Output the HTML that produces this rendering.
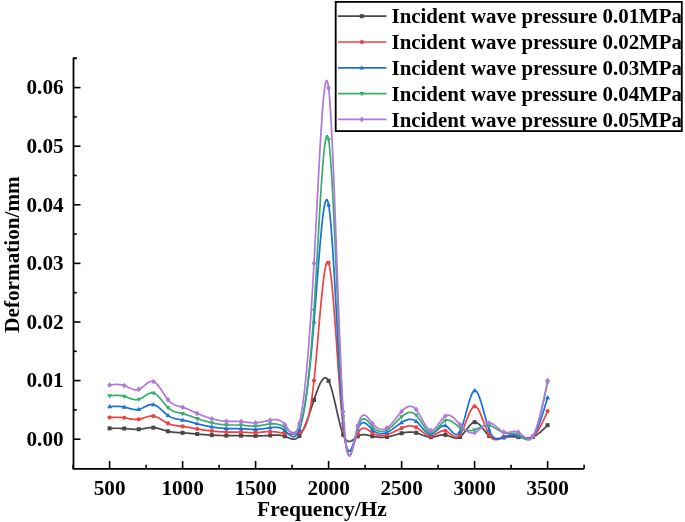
<!DOCTYPE html>
<html><head><meta charset="utf-8"><style>
html,body{margin:0;padding:0;background:#fff;}
svg{display:block;will-change:transform;}
</style></head><body>
<svg width="685" height="522" viewBox="0 0 685 522">
<rect width="685" height="522" fill="#fff"/>
<path d="M109.60,428.36 L110.21,428.35 L110.82,428.33 L111.42,428.32 L112.03,428.31 L112.64,428.29 L113.25,428.28 L113.86,428.27 L114.47,428.26 L115.07,428.26 L115.68,428.25 L116.29,428.25 L116.90,428.25 L117.51,428.25 L118.12,428.25 L118.72,428.26 L119.33,428.27 L119.94,428.28 L120.55,428.30 L121.16,428.32 L121.77,428.34 L122.38,428.37 L122.98,428.40 L123.59,428.44 L124.20,428.48 L124.81,428.52 L125.42,428.57 L126.02,428.62 L126.63,428.68 L127.24,428.73 L127.85,428.79 L128.46,428.85 L129.07,428.91 L129.67,428.96 L130.28,429.02 L130.89,429.07 L131.50,429.12 L132.11,429.17 L132.72,429.21 L133.32,429.25 L133.93,429.28 L134.54,429.31 L135.15,429.32 L135.76,429.33 L136.37,429.33 L136.97,429.33 L137.58,429.31 L138.19,429.28 L138.80,429.24 L139.41,429.19 L140.02,429.12 L140.62,429.05 L141.23,428.97 L141.84,428.88 L142.45,428.79 L143.06,428.69 L143.67,428.59 L144.27,428.49 L144.88,428.39 L145.49,428.29 L146.10,428.19 L146.71,428.09 L147.32,428.00 L147.92,427.92 L148.53,427.84 L149.14,427.77 L149.75,427.72 L150.36,427.67 L150.97,427.64 L151.57,427.62 L152.18,427.61 L152.79,427.63 L153.40,427.66 L154.01,427.71 L154.62,427.77 L155.22,427.86 L155.83,427.96 L156.44,428.07 L157.05,428.20 L157.66,428.34 L158.27,428.49 L158.88,428.65 L159.48,428.81 L160.09,428.99 L160.70,429.17 L161.31,429.35 L161.92,429.54 L162.52,429.73 L163.13,429.91 L163.74,430.10 L164.35,430.29 L164.96,430.47 L165.57,430.65 L166.17,430.82 L166.78,430.99 L167.39,431.14 L168.00,431.29 L168.61,431.43 L169.22,431.55 L169.82,431.67 L170.43,431.78 L171.04,431.87 L171.65,431.96 L172.26,432.05 L172.87,432.12 L173.47,432.19 L174.08,432.25 L174.69,432.31 L175.30,432.36 L175.91,432.41 L176.52,432.46 L177.12,432.50 L177.73,432.54 L178.34,432.57 L178.95,432.61 L179.56,432.64 L180.17,432.68 L180.77,432.71 L181.38,432.74 L181.99,432.78 L182.60,432.81 L183.21,432.85 L183.82,432.89 L184.42,432.93 L185.03,432.98 L185.64,433.02 L186.25,433.07 L186.86,433.12 L187.47,433.17 L188.07,433.22 L188.68,433.27 L189.29,433.32 L189.90,433.38 L190.51,433.43 L191.12,433.49 L191.72,433.54 L192.33,433.60 L192.94,433.66 L193.55,433.71 L194.16,433.77 L194.77,433.82 L195.38,433.88 L195.98,433.93 L196.59,433.99 L197.20,434.04 L197.81,434.10 L198.42,434.15 L199.02,434.20 L199.63,434.25 L200.24,434.30 L200.85,434.35 L201.46,434.40 L202.07,434.45 L202.67,434.49 L203.28,434.54 L203.89,434.58 L204.50,434.63 L205.11,434.67 L205.72,434.72 L206.32,434.76 L206.93,434.80 L207.54,434.84 L208.15,434.88 L208.76,434.92 L209.37,434.96 L209.97,434.99 L210.58,435.03 L211.19,435.06 L211.80,435.10 L212.41,435.13 L213.02,435.16 L213.62,435.20 L214.23,435.23 L214.84,435.26 L215.45,435.29 L216.06,435.31 L216.67,435.34 L217.27,435.37 L217.88,435.39 L218.49,435.42 L219.10,435.44 L219.71,435.46 L220.32,435.48 L220.92,435.50 L221.53,435.52 L222.14,435.54 L222.75,435.55 L223.36,435.57 L223.97,435.58 L224.57,435.60 L225.18,435.61 L225.79,435.62 L226.40,435.63 L227.01,435.63 L227.62,435.64 L228.22,435.64 L228.83,435.65 L229.44,435.65 L230.05,435.65 L230.66,435.65 L231.27,435.66 L231.88,435.66 L232.48,435.66 L233.09,435.66 L233.70,435.66 L234.31,435.66 L234.92,435.66 L235.52,435.66 L236.13,435.66 L236.74,435.66 L237.35,435.66 L237.96,435.66 L238.57,435.66 L239.17,435.67 L239.78,435.67 L240.39,435.68 L241.00,435.68 L241.61,435.69 L242.22,435.70 L242.82,435.71 L243.43,435.72 L244.04,435.73 L244.65,435.75 L245.26,435.76 L245.87,435.77 L246.47,435.78 L247.08,435.80 L247.69,435.81 L248.30,435.82 L248.91,435.84 L249.52,435.85 L250.12,435.86 L250.73,435.87 L251.34,435.88 L251.95,435.89 L252.56,435.90 L253.17,435.91 L253.77,435.91 L254.38,435.92 L254.99,435.92 L255.60,435.92 L256.21,435.92 L256.82,435.91 L257.42,435.91 L258.03,435.90 L258.64,435.89 L259.25,435.88 L259.86,435.87 L260.47,435.85 L261.07,435.84 L261.68,435.82 L262.29,435.80 L262.90,435.78 L263.51,435.76 L264.12,435.73 L264.73,435.70 L265.33,435.68 L265.94,435.65 L266.55,435.61 L267.16,435.58 L267.77,435.55 L268.38,435.51 L268.98,435.47 L269.59,435.43 L270.20,435.39 L270.81,435.35 L271.42,435.31 L272.02,435.26 L272.63,435.22 L273.24,435.18 L273.85,435.15 L274.46,435.12 L275.07,435.09 L275.67,435.08 L276.28,435.07 L276.89,435.06 L277.50,435.07 L278.11,435.09 L278.72,435.12 L279.32,435.16 L279.93,435.22 L280.54,435.29 L281.15,435.37 L281.76,435.47 L282.37,435.59 L282.98,435.73 L283.58,435.89 L284.19,436.07 L284.80,436.27 L285.41,436.49 L286.02,436.73 L286.62,436.98 L287.23,437.24 L287.84,437.50 L288.45,437.76 L289.06,438.01 L289.67,438.25 L290.27,438.46 L290.88,438.66 L291.49,438.82 L292.10,438.95 L292.71,439.04 L293.32,439.09 L293.92,439.09 L294.53,439.03 L295.14,438.91 L295.75,438.73 L296.36,438.47 L296.97,438.15 L297.57,437.74 L298.18,437.24 L298.79,436.66 L299.40,435.98 L300.01,435.20 L300.62,434.32 L301.23,433.35 L301.83,432.29 L302.44,431.15 L303.05,429.94 L303.66,428.65 L304.27,427.29 L304.88,425.86 L305.48,424.38 L306.09,422.84 L306.70,421.25 L307.31,419.62 L307.92,417.94 L308.52,416.23 L309.13,414.49 L309.74,412.72 L310.35,410.92 L310.96,409.11 L311.57,407.28 L312.17,405.45 L312.78,403.61 L313.39,401.77 L314.00,399.94 L314.61,398.11 L315.22,396.31 L315.82,394.54 L316.43,392.80 L317.04,391.11 L317.65,389.48 L318.26,387.91 L318.87,386.43 L319.48,385.02 L320.08,383.72 L320.69,382.52 L321.30,381.43 L321.91,380.47 L322.52,379.65 L323.12,378.97 L323.73,378.44 L324.34,378.07 L324.95,377.88 L325.56,377.87 L326.17,378.05 L326.77,378.44 L327.38,379.03 L327.99,379.85 L328.60,380.89 L329.21,382.17 L329.82,383.68 L330.42,385.38 L331.03,387.27 L331.64,389.32 L332.25,391.52 L332.86,393.85 L333.47,396.28 L334.07,398.81 L334.68,401.41 L335.29,404.06 L335.90,406.74 L336.51,409.44 L337.12,412.14 L337.72,414.81 L338.33,417.45 L338.94,420.02 L339.55,422.52 L340.16,424.92 L340.77,427.20 L341.38,429.35 L341.98,431.35 L342.59,433.17 L343.20,434.81 L343.81,436.23 L344.42,437.47 L345.02,438.51 L345.63,439.38 L346.24,440.08 L346.85,440.62 L347.46,441.03 L348.07,441.29 L348.67,441.44 L349.28,441.47 L349.89,441.41 L350.50,441.25 L351.11,441.01 L351.72,440.71 L352.32,440.34 L352.93,439.93 L353.54,439.49 L354.15,439.02 L354.76,438.53 L355.37,438.04 L355.97,437.56 L356.58,437.10 L357.19,436.66 L357.80,436.27 L358.41,435.92 L359.02,435.63 L359.62,435.37 L360.23,435.16 L360.84,434.99 L361.45,434.86 L362.06,434.77 L362.67,434.71 L363.27,434.68 L363.88,434.67 L364.49,434.70 L365.10,434.75 L365.71,434.82 L366.32,434.90 L366.92,435.01 L367.53,435.13 L368.14,435.25 L368.75,435.39 L369.36,435.54 L369.97,435.69 L370.57,435.84 L371.18,435.98 L371.79,436.13 L372.40,436.27 L373.01,436.40 L373.62,436.53 L374.23,436.64 L374.83,436.75 L375.44,436.85 L376.05,436.94 L376.66,437.02 L377.27,437.09 L377.88,437.15 L378.48,437.20 L379.09,437.25 L379.70,437.28 L380.31,437.31 L380.92,437.32 L381.52,437.33 L382.13,437.32 L382.74,437.31 L383.35,437.28 L383.96,437.25 L384.57,437.20 L385.17,437.15 L385.78,437.08 L386.39,437.00 L387.00,436.91 L387.61,436.82 L388.22,436.71 L388.82,436.59 L389.43,436.46 L390.04,436.33 L390.65,436.19 L391.26,436.04 L391.87,435.88 L392.48,435.72 L393.08,435.56 L393.69,435.39 L394.30,435.22 L394.91,435.05 L395.52,434.88 L396.12,434.70 L396.73,434.53 L397.34,434.35 L397.95,434.18 L398.56,434.01 L399.17,433.85 L399.77,433.68 L400.38,433.52 L400.99,433.37 L401.60,433.22 L402.21,433.08 L402.82,432.95 L403.42,432.82 L404.03,432.70 L404.64,432.59 L405.25,432.49 L405.86,432.40 L406.47,432.32 L407.07,432.25 L407.68,432.19 L408.29,432.15 L408.90,432.11 L409.51,432.09 L410.12,432.08 L410.73,432.08 L411.33,432.10 L411.94,432.13 L412.55,432.18 L413.16,432.24 L413.77,432.32 L414.38,432.42 L414.98,432.53 L415.59,432.66 L416.20,432.81 L416.81,432.98 L417.42,433.16 L418.02,433.36 L418.63,433.57 L419.24,433.79 L419.85,434.02 L420.46,434.25 L421.07,434.49 L421.67,434.73 L422.28,434.97 L422.89,435.21 L423.50,435.45 L424.11,435.67 L424.72,435.89 L425.32,436.10 L425.93,436.29 L426.54,436.48 L427.15,436.64 L427.76,436.78 L428.37,436.91 L428.98,437.01 L429.58,437.08 L430.19,437.13 L430.80,437.15 L431.41,437.14 L432.02,437.10 L432.62,437.03 L433.23,436.94 L433.84,436.83 L434.45,436.71 L435.06,436.57 L435.67,436.42 L436.27,436.26 L436.88,436.09 L437.49,435.93 L438.10,435.76 L438.71,435.60 L439.32,435.45 L439.92,435.30 L440.53,435.17 L441.14,435.06 L441.75,434.96 L442.36,434.88 L442.97,434.83 L443.57,434.80 L444.18,434.81 L444.79,434.85 L445.40,434.92 L446.01,435.03 L446.62,435.18 L447.23,435.36 L447.83,435.56 L448.44,435.77 L449.05,436.01 L449.66,436.25 L450.27,436.49 L450.88,436.74 L451.48,436.98 L452.09,437.21 L452.70,437.42 L453.31,437.61 L453.92,437.78 L454.52,437.91 L455.13,438.01 L455.74,438.07 L456.35,438.08 L456.96,438.04 L457.57,437.95 L458.17,437.79 L458.78,437.57 L459.39,437.28 L460.00,436.91 L460.61,436.47 L461.22,435.95 L461.82,435.37 L462.43,434.73 L463.04,434.04 L463.65,433.31 L464.26,432.55 L464.87,431.76 L465.48,430.95 L466.08,430.14 L466.69,429.32 L467.30,428.51 L467.91,427.72 L468.52,426.95 L469.12,426.20 L469.73,425.50 L470.34,424.84 L470.95,424.24 L471.56,423.70 L472.17,423.23 L472.77,422.84 L473.38,422.53 L473.99,422.32 L474.60,422.21 L475.21,422.20 L475.82,422.30 L476.42,422.50 L477.03,422.78 L477.64,423.14 L478.25,423.58 L478.86,424.09 L479.47,424.65 L480.07,425.27 L480.68,425.93 L481.29,426.63 L481.90,427.37 L482.51,428.12 L483.12,428.90 L483.73,429.68 L484.33,430.46 L484.94,431.24 L485.55,432.01 L486.16,432.76 L486.77,433.49 L487.38,434.18 L487.98,434.83 L488.59,435.43 L489.20,435.98 L489.81,436.46 L490.42,436.89 L491.02,437.27 L491.63,437.59 L492.24,437.86 L492.85,438.08 L493.46,438.26 L494.07,438.39 L494.67,438.49 L495.28,438.56 L495.89,438.59 L496.50,438.59 L497.11,438.57 L497.72,438.52 L498.32,438.46 L498.93,438.37 L499.54,438.28 L500.15,438.17 L500.76,438.05 L501.37,437.93 L501.98,437.80 L502.58,437.68 L503.19,437.56 L503.80,437.44 L504.41,437.34 L505.02,437.24 L505.62,437.15 L506.23,437.08 L506.84,437.01 L507.45,436.95 L508.06,436.90 L508.67,436.85 L509.27,436.82 L509.88,436.79 L510.49,436.77 L511.10,436.76 L511.71,436.75 L512.32,436.76 L512.92,436.77 L513.53,436.78 L514.14,436.81 L514.75,436.84 L515.36,436.87 L515.97,436.92 L516.57,436.97 L517.18,437.02 L517.79,437.08 L518.40,437.15 L519.01,437.22 L519.62,437.30 L520.23,437.37 L520.83,437.45 L521.44,437.53 L522.05,437.61 L522.66,437.68 L523.27,437.74 L523.88,437.80 L524.48,437.86 L525.09,437.90 L525.70,437.93 L526.31,437.95 L526.92,437.95 L527.52,437.94 L528.13,437.91 L528.74,437.86 L529.35,437.79 L529.96,437.70 L530.57,437.58 L531.17,437.44 L531.78,437.27 L532.39,437.08 L533.00,436.86 L533.63,436.59 L534.27,436.29 L534.90,435.96 L535.54,435.60 L536.17,435.21 L536.81,434.80 L537.44,434.36 L538.08,433.90 L538.71,433.41 L539.35,432.91 L539.98,432.38 L540.62,431.84 L541.25,431.28 L541.89,430.71 L542.52,430.13 L543.16,429.53 L543.79,428.92 L544.43,428.30 L545.06,427.68 L545.70,427.05 L546.33,426.41 L546.97,425.78 L547.60,425.14" fill="none" stroke="#474747" stroke-width="1.7" stroke-linejoin="round"/>
<rect x="107.60" y="426.36" width="4.00" height="4.00" fill="#474747"/>
<rect x="122.20" y="426.48" width="4.00" height="4.00" fill="#474747"/>
<rect x="136.80" y="427.24" width="4.00" height="4.00" fill="#474747"/>
<rect x="151.40" y="425.66" width="4.00" height="4.00" fill="#474747"/>
<rect x="166.00" y="429.29" width="4.00" height="4.00" fill="#474747"/>
<rect x="180.60" y="430.81" width="4.00" height="4.00" fill="#474747"/>
<rect x="195.20" y="432.04" width="4.00" height="4.00" fill="#474747"/>
<rect x="209.80" y="433.10" width="4.00" height="4.00" fill="#474747"/>
<rect x="224.40" y="433.63" width="4.00" height="4.00" fill="#474747"/>
<rect x="239.00" y="433.68" width="4.00" height="4.00" fill="#474747"/>
<rect x="253.60" y="433.92" width="4.00" height="4.00" fill="#474747"/>
<rect x="268.20" y="433.39" width="4.00" height="4.00" fill="#474747"/>
<rect x="282.80" y="434.27" width="4.00" height="4.00" fill="#474747"/>
<rect x="297.40" y="433.98" width="4.00" height="4.00" fill="#474747"/>
<rect x="312.00" y="397.94" width="4.00" height="4.00" fill="#474747"/>
<rect x="326.60" y="378.89" width="4.00" height="4.00" fill="#474747"/>
<rect x="341.20" y="432.81" width="4.00" height="4.00" fill="#474747"/>
<rect x="355.80" y="434.27" width="4.00" height="4.00" fill="#474747"/>
<rect x="370.40" y="434.27" width="4.00" height="4.00" fill="#474747"/>
<rect x="385.00" y="434.91" width="4.00" height="4.00" fill="#474747"/>
<rect x="399.60" y="431.22" width="4.00" height="4.00" fill="#474747"/>
<rect x="414.20" y="430.81" width="4.00" height="4.00" fill="#474747"/>
<rect x="428.80" y="435.15" width="4.00" height="4.00" fill="#474747"/>
<rect x="443.40" y="432.92" width="4.00" height="4.00" fill="#474747"/>
<rect x="458.00" y="434.91" width="4.00" height="4.00" fill="#474747"/>
<rect x="472.60" y="420.21" width="4.00" height="4.00" fill="#474747"/>
<rect x="487.20" y="433.98" width="4.00" height="4.00" fill="#474747"/>
<rect x="501.80" y="435.44" width="4.00" height="4.00" fill="#474747"/>
<rect x="516.40" y="435.15" width="4.00" height="4.00" fill="#474747"/>
<rect x="531.00" y="434.86" width="4.00" height="4.00" fill="#474747"/>
<rect x="545.60" y="423.14" width="4.00" height="4.00" fill="#474747"/>
<path d="M109.60,417.52 L110.21,417.49 L110.82,417.46 L111.42,417.44 L112.03,417.41 L112.64,417.39 L113.25,417.36 L113.86,417.35 L114.47,417.33 L115.07,417.31 L115.68,417.30 L116.29,417.30 L116.90,417.30 L117.51,417.30 L118.12,417.31 L118.72,417.32 L119.33,417.34 L119.94,417.37 L120.55,417.40 L121.16,417.44 L121.77,417.48 L122.38,417.54 L122.98,417.60 L123.59,417.67 L124.20,417.75 L124.81,417.84 L125.42,417.94 L126.02,418.04 L126.63,418.15 L127.24,418.27 L127.85,418.38 L128.46,418.50 L129.07,418.61 L129.67,418.73 L130.28,418.84 L130.89,418.95 L131.50,419.05 L132.11,419.14 L132.72,419.22 L133.32,419.30 L133.93,419.36 L134.54,419.41 L135.15,419.45 L135.76,419.47 L136.37,419.47 L136.97,419.45 L137.58,419.41 L138.19,419.36 L138.80,419.28 L139.41,419.17 L140.02,419.05 L140.62,418.90 L141.23,418.74 L141.84,418.56 L142.45,418.38 L143.06,418.18 L143.67,417.98 L144.27,417.78 L144.88,417.57 L145.49,417.37 L146.10,417.17 L146.71,416.98 L147.32,416.80 L147.92,416.63 L148.53,416.48 L149.14,416.35 L149.75,416.23 L150.36,416.14 L150.97,416.07 L151.57,416.03 L152.18,416.02 L152.79,416.05 L153.40,416.11 L154.01,416.21 L154.62,416.35 L155.22,416.52 L155.83,416.72 L156.44,416.94 L157.05,417.20 L157.66,417.48 L158.27,417.78 L158.88,418.10 L159.48,418.43 L160.09,418.78 L160.70,419.14 L161.31,419.50 L161.92,419.88 L162.52,420.25 L163.13,420.63 L163.74,421.00 L164.35,421.38 L164.96,421.74 L165.57,422.10 L166.17,422.44 L166.78,422.77 L167.39,423.08 L168.00,423.38 L168.61,423.65 L169.22,423.90 L169.82,424.14 L170.43,424.35 L171.04,424.55 L171.65,424.73 L172.26,424.89 L172.87,425.04 L173.47,425.18 L174.08,425.31 L174.69,425.42 L175.30,425.53 L175.91,425.63 L176.52,425.71 L177.12,425.80 L177.73,425.87 L178.34,425.95 L178.95,426.02 L179.56,426.08 L180.17,426.15 L180.77,426.22 L181.38,426.28 L181.99,426.35 L182.60,426.43 L183.21,426.50 L183.82,426.58 L184.42,426.67 L185.03,426.75 L185.64,426.85 L186.25,426.94 L186.86,427.04 L187.47,427.14 L188.07,427.24 L188.68,427.34 L189.29,427.45 L189.90,427.56 L190.51,427.67 L191.12,427.78 L191.72,427.89 L192.33,428.00 L192.94,428.11 L193.55,428.22 L194.16,428.34 L194.77,428.45 L195.38,428.56 L195.98,428.67 L196.59,428.78 L197.20,428.89 L197.81,428.99 L198.42,429.10 L199.02,429.20 L199.63,429.30 L200.24,429.40 L200.85,429.50 L201.46,429.60 L202.07,429.69 L202.67,429.79 L203.28,429.88 L203.89,429.97 L204.50,430.06 L205.11,430.14 L205.72,430.23 L206.32,430.31 L206.93,430.40 L207.54,430.48 L208.15,430.56 L208.76,430.63 L209.37,430.71 L209.97,430.78 L210.58,430.86 L211.19,430.93 L211.80,431.00 L212.41,431.06 L213.02,431.13 L213.62,431.19 L214.23,431.26 L214.84,431.32 L215.45,431.38 L216.06,431.43 L216.67,431.49 L217.27,431.54 L217.88,431.59 L218.49,431.64 L219.10,431.69 L219.71,431.73 L220.32,431.77 L220.92,431.81 L221.53,431.85 L222.14,431.88 L222.75,431.91 L223.36,431.94 L223.97,431.97 L224.57,432.00 L225.18,432.02 L225.79,432.04 L226.40,432.05 L227.01,432.06 L227.62,432.07 L228.22,432.08 L228.83,432.09 L229.44,432.09 L230.05,432.09 L230.66,432.10 L231.27,432.10 L231.88,432.09 L232.48,432.09 L233.09,432.09 L233.70,432.09 L234.31,432.09 L234.92,432.09 L235.52,432.09 L236.13,432.09 L236.74,432.09 L237.35,432.10 L237.96,432.10 L238.57,432.11 L239.17,432.12 L239.78,432.13 L240.39,432.15 L241.00,432.17 L241.61,432.19 L242.22,432.22 L242.82,432.24 L243.43,432.27 L244.04,432.31 L244.65,432.34 L245.26,432.37 L245.87,432.41 L246.47,432.44 L247.08,432.47 L247.69,432.51 L248.30,432.54 L248.91,432.57 L249.52,432.59 L250.12,432.62 L250.73,432.64 L251.34,432.66 L251.95,432.67 L252.56,432.68 L253.17,432.68 L253.77,432.68 L254.38,432.67 L254.99,432.66 L255.60,432.64 L256.21,432.61 L256.82,432.58 L257.42,432.54 L258.03,432.49 L258.64,432.44 L259.25,432.39 L259.86,432.33 L260.47,432.27 L261.07,432.21 L261.68,432.15 L262.29,432.09 L262.90,432.03 L263.51,431.97 L264.12,431.91 L264.73,431.86 L265.33,431.80 L265.94,431.76 L266.55,431.71 L267.16,431.67 L267.77,431.64 L268.38,431.61 L268.98,431.59 L269.59,431.58 L270.20,431.58 L270.81,431.59 L271.42,431.61 L272.02,431.63 L272.63,431.66 L273.24,431.70 L273.85,431.75 L274.46,431.80 L275.07,431.87 L275.67,431.93 L276.28,432.00 L276.89,432.08 L277.50,432.16 L278.11,432.25 L278.72,432.34 L279.32,432.43 L279.93,432.53 L280.54,432.62 L281.15,432.72 L281.76,432.83 L282.37,432.93 L282.98,433.03 L283.58,433.13 L284.19,433.24 L284.80,433.34 L285.41,433.44 L286.02,433.54 L286.62,433.64 L287.23,433.73 L287.84,433.81 L288.45,433.89 L289.06,433.96 L289.67,434.02 L290.27,434.07 L290.88,434.11 L291.49,434.13 L292.10,434.14 L292.71,434.14 L293.32,434.12 L293.92,434.08 L294.53,434.03 L295.14,433.95 L295.75,433.85 L296.36,433.73 L296.97,433.59 L297.57,433.42 L298.18,433.22 L298.79,433.00 L299.40,432.75 L300.01,432.47 L300.62,432.15 L301.23,431.76 L301.83,431.29 L302.44,430.73 L303.05,430.06 L303.66,429.26 L304.27,428.32 L304.88,427.22 L305.48,425.94 L306.09,424.48 L306.70,422.80 L307.31,420.90 L307.92,418.76 L308.52,416.37 L309.13,413.70 L309.74,410.75 L310.35,407.48 L310.96,403.90 L311.57,399.98 L312.17,395.71 L312.78,391.06 L313.39,386.03 L314.00,380.60 L314.61,374.76 L315.22,368.56 L315.82,362.07 L316.43,355.34 L317.04,348.42 L317.65,341.39 L318.26,334.30 L318.87,327.21 L319.48,320.18 L320.08,313.27 L320.69,306.54 L321.30,300.06 L321.91,293.87 L322.52,288.05 L323.12,282.64 L323.73,277.72 L324.34,273.33 L324.95,269.55 L325.56,266.43 L326.17,264.02 L326.77,262.40 L327.38,261.62 L327.99,261.74 L328.60,262.81 L329.21,264.89 L329.82,267.91 L330.42,271.81 L331.03,276.51 L331.64,281.95 L332.25,288.04 L332.86,294.72 L333.47,301.91 L334.07,309.54 L334.68,317.55 L335.29,325.85 L335.90,334.38 L336.51,343.07 L337.12,351.83 L337.72,360.60 L338.33,369.31 L338.94,377.89 L339.55,386.26 L340.16,394.35 L340.77,402.08 L341.38,409.39 L341.98,416.21 L342.59,422.46 L343.20,428.07 L343.81,432.98 L344.42,437.22 L345.02,440.81 L345.63,443.81 L346.24,446.24 L346.85,448.14 L347.46,449.55 L348.07,450.50 L348.67,451.03 L349.28,451.18 L349.89,450.99 L350.50,450.49 L351.11,449.71 L351.72,448.70 L352.32,447.49 L352.93,446.12 L353.54,444.63 L354.15,443.04 L354.76,441.41 L355.37,439.76 L355.97,438.13 L356.58,436.56 L357.19,435.09 L357.80,433.75 L358.41,432.57 L359.02,431.55 L359.62,430.68 L360.23,429.96 L360.84,429.37 L361.45,428.91 L362.06,428.57 L362.67,428.34 L363.27,428.21 L363.88,428.18 L364.49,428.23 L365.10,428.36 L365.71,428.55 L366.32,428.81 L366.92,429.12 L367.53,429.47 L368.14,429.86 L368.75,430.28 L369.36,430.71 L369.97,431.16 L370.57,431.60 L371.18,432.04 L371.79,432.47 L372.40,432.87 L373.01,433.24 L373.62,433.59 L374.23,433.90 L374.83,434.18 L375.44,434.43 L376.05,434.66 L376.66,434.86 L377.27,435.03 L377.88,435.17 L378.48,435.29 L379.09,435.39 L379.70,435.46 L380.31,435.50 L380.92,435.53 L381.52,435.53 L382.13,435.50 L382.74,435.46 L383.35,435.40 L383.96,435.32 L384.57,435.22 L385.17,435.10 L385.78,434.96 L386.39,434.80 L387.00,434.63 L387.61,434.44 L388.22,434.24 L388.82,434.02 L389.43,433.79 L390.04,433.55 L390.65,433.30 L391.26,433.04 L391.87,432.76 L392.48,432.49 L393.08,432.20 L393.69,431.91 L394.30,431.62 L394.91,431.32 L395.52,431.02 L396.12,430.72 L396.73,430.42 L397.34,430.12 L397.95,429.82 L398.56,429.52 L399.17,429.23 L399.77,428.94 L400.38,428.66 L400.99,428.39 L401.60,428.12 L402.21,427.87 L402.82,427.62 L403.42,427.39 L404.03,427.17 L404.64,426.97 L405.25,426.77 L405.86,426.60 L406.47,426.44 L407.07,426.31 L407.68,426.19 L408.29,426.10 L408.90,426.02 L409.51,425.97 L410.12,425.95 L410.73,425.95 L411.33,425.98 L411.94,426.04 L412.55,426.13 L413.16,426.25 L413.77,426.40 L414.38,426.59 L414.98,426.81 L415.59,427.07 L416.20,427.36 L416.81,427.69 L417.42,428.06 L418.02,428.46 L418.63,428.88 L419.24,429.32 L419.85,429.78 L420.46,430.25 L421.07,430.73 L421.67,431.21 L422.28,431.70 L422.89,432.17 L423.50,432.64 L424.11,433.10 L424.72,433.54 L425.32,433.95 L425.93,434.34 L426.54,434.70 L427.15,435.02 L427.76,435.30 L428.37,435.54 L428.98,435.74 L429.58,435.87 L430.19,435.96 L430.80,435.98 L431.41,435.93 L432.02,435.83 L432.62,435.68 L433.23,435.47 L433.84,435.23 L434.45,434.95 L435.06,434.64 L435.67,434.31 L436.27,433.96 L436.88,433.60 L437.49,433.24 L438.10,432.87 L438.71,432.52 L439.32,432.18 L439.92,431.85 L440.53,431.56 L441.14,431.29 L441.75,431.06 L442.36,430.88 L442.97,430.74 L443.57,430.66 L444.18,430.65 L444.79,430.70 L445.40,430.82 L446.01,431.02 L446.62,431.29 L447.23,431.63 L447.83,432.01 L448.44,432.43 L449.05,432.88 L449.66,433.35 L450.27,433.84 L450.88,434.32 L451.48,434.79 L452.09,435.25 L452.70,435.67 L453.31,436.05 L453.92,436.39 L454.52,436.66 L455.13,436.87 L455.74,436.99 L456.35,437.03 L456.96,436.97 L457.57,436.79 L458.17,436.50 L458.78,436.08 L459.39,435.52 L460.00,434.81 L460.61,433.94 L461.22,432.93 L461.82,431.79 L462.43,430.54 L463.04,429.20 L463.65,427.77 L464.26,426.28 L464.87,424.74 L465.48,423.17 L466.08,421.58 L466.69,419.99 L467.30,418.41 L467.91,416.86 L468.52,415.37 L469.12,413.93 L469.73,412.57 L470.34,411.30 L470.95,410.14 L471.56,409.11 L472.17,408.22 L472.77,407.49 L473.38,406.93 L473.99,406.55 L474.60,406.38 L475.21,406.43 L475.82,406.68 L476.42,407.13 L477.03,407.74 L477.64,408.53 L478.25,409.45 L478.86,410.52 L479.47,411.70 L480.07,412.98 L480.68,414.35 L481.29,415.80 L481.90,417.31 L482.51,418.86 L483.12,420.45 L483.73,422.05 L484.33,423.65 L484.94,425.24 L485.55,426.80 L486.16,428.33 L486.77,429.79 L487.38,431.19 L487.98,432.50 L488.59,433.71 L489.20,434.81 L489.81,435.78 L490.42,436.62 L491.02,437.36 L491.63,437.98 L492.24,438.50 L492.85,438.92 L493.46,439.24 L494.07,439.49 L494.67,439.65 L495.28,439.74 L495.89,439.77 L496.50,439.73 L497.11,439.64 L497.72,439.51 L498.32,439.33 L498.93,439.11 L499.54,438.87 L500.15,438.60 L500.76,438.31 L501.37,438.02 L501.98,437.72 L502.58,437.42 L503.19,437.13 L503.80,436.86 L504.41,436.60 L505.02,436.36 L505.62,436.15 L506.23,435.95 L506.84,435.77 L507.45,435.62 L508.06,435.48 L508.67,435.36 L509.27,435.26 L509.88,435.18 L510.49,435.12 L511.10,435.08 L511.71,435.06 L512.32,435.05 L512.92,435.06 L513.53,435.09 L514.14,435.14 L514.75,435.21 L515.36,435.30 L515.97,435.40 L516.57,435.52 L517.18,435.65 L517.79,435.81 L518.40,435.98 L519.01,436.16 L519.62,436.36 L520.23,436.57 L520.83,436.79 L521.44,437.00 L522.05,437.22 L522.66,437.43 L523.27,437.63 L523.88,437.81 L524.48,437.99 L525.09,438.14 L525.70,438.26 L526.31,438.36 L526.92,438.43 L527.52,438.46 L528.13,438.45 L528.74,438.41 L529.35,438.31 L529.96,438.17 L530.57,437.97 L531.17,437.71 L531.78,437.39 L532.39,437.01 L533.00,436.56 L533.63,436.02 L534.27,435.40 L534.90,434.71 L535.54,433.95 L536.17,433.12 L536.81,432.23 L537.44,431.29 L538.08,430.29 L538.71,429.24 L539.35,428.14 L539.98,427.00 L540.62,425.82 L541.25,424.60 L541.89,423.34 L542.52,422.05 L543.16,420.74 L543.79,419.40 L544.43,418.05 L545.06,416.67 L545.70,415.28 L546.33,413.89 L546.97,412.48 L547.60,411.07" fill="none" stroke="#F14040" stroke-width="1.7" stroke-linejoin="round"/>
<circle cx="109.60" cy="417.52" r="2.10" fill="#F14040"/>
<circle cx="124.20" cy="417.75" r="2.10" fill="#F14040"/>
<circle cx="138.80" cy="419.28" r="2.10" fill="#F14040"/>
<circle cx="153.40" cy="416.11" r="2.10" fill="#F14040"/>
<circle cx="168.00" cy="423.38" r="2.10" fill="#F14040"/>
<circle cx="182.60" cy="426.43" r="2.10" fill="#F14040"/>
<circle cx="197.20" cy="428.89" r="2.10" fill="#F14040"/>
<circle cx="211.80" cy="431.00" r="2.10" fill="#F14040"/>
<circle cx="226.40" cy="432.05" r="2.10" fill="#F14040"/>
<circle cx="241.00" cy="432.17" r="2.10" fill="#F14040"/>
<circle cx="255.60" cy="432.64" r="2.10" fill="#F14040"/>
<circle cx="270.20" cy="431.58" r="2.10" fill="#F14040"/>
<circle cx="284.80" cy="433.34" r="2.10" fill="#F14040"/>
<circle cx="299.40" cy="432.75" r="2.10" fill="#F14040"/>
<circle cx="314.00" cy="380.60" r="2.10" fill="#F14040"/>
<circle cx="328.60" cy="262.81" r="2.10" fill="#F14040"/>
<circle cx="343.20" cy="428.07" r="2.10" fill="#F14040"/>
<circle cx="357.80" cy="433.75" r="2.10" fill="#F14040"/>
<circle cx="372.40" cy="432.87" r="2.10" fill="#F14040"/>
<circle cx="387.00" cy="434.63" r="2.10" fill="#F14040"/>
<circle cx="401.60" cy="428.12" r="2.10" fill="#F14040"/>
<circle cx="416.20" cy="427.36" r="2.10" fill="#F14040"/>
<circle cx="430.80" cy="435.98" r="2.10" fill="#F14040"/>
<circle cx="445.40" cy="430.82" r="2.10" fill="#F14040"/>
<circle cx="460.00" cy="434.81" r="2.10" fill="#F14040"/>
<circle cx="474.60" cy="406.38" r="2.10" fill="#F14040"/>
<circle cx="489.20" cy="434.81" r="2.10" fill="#F14040"/>
<circle cx="503.80" cy="436.86" r="2.10" fill="#F14040"/>
<circle cx="518.40" cy="435.98" r="2.10" fill="#F14040"/>
<circle cx="533.00" cy="436.56" r="2.10" fill="#F14040"/>
<circle cx="547.60" cy="411.07" r="2.10" fill="#F14040"/>
<path d="M109.60,406.68 L110.21,406.64 L110.82,406.59 L111.42,406.55 L112.03,406.52 L112.64,406.48 L113.25,406.45 L113.86,406.42 L114.47,406.39 L115.07,406.37 L115.68,406.36 L116.29,406.35 L116.90,406.34 L117.51,406.35 L118.12,406.36 L118.72,406.38 L119.33,406.41 L119.94,406.45 L120.55,406.50 L121.16,406.55 L121.77,406.62 L122.38,406.71 L122.98,406.80 L123.59,406.91 L124.20,407.03 L124.81,407.16 L125.42,407.31 L126.02,407.47 L126.63,407.63 L127.24,407.80 L127.85,407.97 L128.46,408.15 L129.07,408.32 L129.67,408.49 L130.28,408.66 L130.89,408.82 L131.50,408.97 L132.11,409.11 L132.72,409.24 L133.32,409.35 L133.93,409.44 L134.54,409.52 L135.15,409.57 L135.76,409.60 L136.37,409.60 L136.97,409.58 L137.58,409.52 L138.19,409.44 L138.80,409.31 L139.41,409.16 L140.02,408.97 L140.62,408.75 L141.23,408.51 L141.84,408.25 L142.45,407.97 L143.06,407.68 L143.67,407.37 L144.27,407.07 L144.88,406.76 L145.49,406.46 L146.10,406.16 L146.71,405.88 L147.32,405.60 L147.92,405.35 L148.53,405.12 L149.14,404.92 L149.75,404.75 L150.36,404.61 L150.97,404.51 L151.57,404.45 L152.18,404.44 L152.79,404.48 L153.40,404.57 L154.01,404.72 L154.62,404.92 L155.22,405.17 L155.83,405.47 L156.44,405.82 L157.05,406.20 L157.66,406.62 L158.27,407.07 L158.88,407.54 L159.48,408.04 L160.09,408.57 L160.70,409.10 L161.31,409.65 L161.92,410.21 L162.52,410.78 L163.13,411.34 L163.74,411.91 L164.35,412.46 L164.96,413.01 L165.57,413.55 L166.17,414.06 L166.78,414.56 L167.39,415.03 L168.00,415.47 L168.61,415.88 L169.22,416.25 L169.82,416.60 L170.43,416.93 L171.04,417.22 L171.65,417.49 L172.26,417.74 L172.87,417.97 L173.47,418.17 L174.08,418.36 L174.69,418.54 L175.30,418.69 L175.91,418.84 L176.52,418.97 L177.12,419.10 L177.73,419.21 L178.34,419.32 L178.95,419.43 L179.56,419.53 L180.17,419.63 L180.77,419.72 L181.38,419.83 L181.99,419.93 L182.60,420.04 L183.21,420.15 L183.82,420.27 L184.42,420.40 L185.03,420.53 L185.64,420.67 L186.25,420.81 L186.86,420.96 L187.47,421.11 L188.07,421.26 L188.68,421.42 L189.29,421.57 L189.90,421.74 L190.51,421.90 L191.12,422.07 L191.72,422.23 L192.33,422.40 L192.94,422.57 L193.55,422.74 L194.16,422.90 L194.77,423.07 L195.38,423.24 L195.98,423.40 L196.59,423.57 L197.20,423.73 L197.81,423.89 L198.42,424.05 L199.02,424.20 L199.63,424.35 L200.24,424.50 L200.85,424.65 L201.46,424.80 L202.07,424.94 L202.67,425.08 L203.28,425.22 L203.89,425.35 L204.50,425.49 L205.11,425.62 L205.72,425.75 L206.32,425.87 L206.93,426.00 L207.54,426.12 L208.15,426.23 L208.76,426.35 L209.37,426.46 L209.97,426.58 L210.58,426.68 L211.19,426.79 L211.80,426.89 L212.41,427.00 L213.02,427.09 L213.62,427.19 L214.23,427.28 L214.84,427.37 L215.45,427.46 L216.06,427.55 L216.67,427.63 L217.27,427.71 L217.88,427.78 L218.49,427.85 L219.10,427.92 L219.71,427.99 L220.32,428.05 L220.92,428.11 L221.53,428.17 L222.14,428.22 L222.75,428.27 L223.36,428.31 L223.97,428.35 L224.57,428.39 L225.18,428.42 L225.79,428.45 L226.40,428.48 L227.01,428.50 L227.62,428.51 L228.22,428.53 L228.83,428.54 L229.44,428.55 L230.05,428.55 L230.66,428.56 L231.27,428.56 L231.88,428.56 L232.48,428.56 L233.09,428.56 L233.70,428.56 L234.31,428.56 L234.92,428.56 L235.52,428.56 L236.13,428.56 L236.74,428.56 L237.35,428.57 L237.96,428.57 L238.57,428.58 L239.17,428.60 L239.78,428.61 L240.39,428.63 L241.00,428.65 L241.61,428.68 L242.22,428.71 L242.82,428.74 L243.43,428.78 L244.04,428.82 L244.65,428.86 L245.26,428.90 L245.87,428.94 L246.47,428.99 L247.08,429.03 L247.69,429.07 L248.30,429.11 L248.91,429.15 L249.52,429.19 L250.12,429.23 L250.73,429.26 L251.34,429.29 L251.95,429.31 L252.56,429.33 L253.17,429.35 L253.77,429.36 L254.38,429.37 L254.99,429.36 L255.60,429.36 L256.21,429.34 L256.82,429.32 L257.42,429.29 L258.03,429.25 L258.64,429.21 L259.25,429.16 L259.86,429.11 L260.47,429.05 L261.07,428.99 L261.68,428.93 L262.29,428.86 L262.90,428.79 L263.51,428.71 L264.12,428.63 L264.73,428.55 L265.33,428.47 L265.94,428.38 L266.55,428.30 L267.16,428.21 L267.77,428.12 L268.38,428.03 L268.98,427.95 L269.59,427.86 L270.20,427.77 L270.81,427.69 L271.42,427.61 L272.02,427.53 L272.63,427.46 L273.24,427.40 L273.85,427.35 L274.46,427.31 L275.07,427.28 L275.67,427.28 L276.28,427.29 L276.89,427.32 L277.50,427.37 L278.11,427.45 L278.72,427.55 L279.32,427.68 L279.93,427.84 L280.54,428.03 L281.15,428.25 L281.76,428.51 L282.37,428.81 L282.98,429.15 L283.58,429.52 L284.19,429.95 L284.80,430.41 L285.41,430.92 L286.02,431.46 L286.62,432.03 L287.23,432.61 L287.84,433.20 L288.45,433.77 L289.06,434.32 L289.67,434.84 L290.27,435.32 L290.88,435.74 L291.49,436.10 L292.10,436.37 L292.71,436.56 L293.32,436.65 L293.92,436.63 L294.53,436.48 L295.14,436.20 L295.75,435.77 L296.36,435.19 L296.97,434.44 L297.57,433.51 L298.18,432.39 L298.79,431.07 L299.40,429.53 L300.01,427.77 L300.62,425.79 L301.23,423.58 L301.83,421.13 L302.44,418.46 L303.05,415.56 L303.66,412.42 L304.27,409.05 L304.88,405.45 L305.48,401.60 L306.09,397.52 L306.70,393.19 L307.31,388.62 L307.92,383.81 L308.52,378.76 L309.13,373.46 L309.74,367.91 L310.35,362.11 L310.96,356.06 L311.57,349.76 L312.17,343.20 L312.78,336.39 L313.39,329.33 L314.00,322.00 L314.61,314.43 L315.22,306.65 L315.82,298.73 L316.43,290.74 L317.04,282.72 L317.65,274.73 L318.26,266.84 L318.87,259.11 L319.48,251.59 L320.08,244.35 L320.69,237.44 L321.30,230.91 L321.91,224.85 L322.52,219.29 L323.12,214.30 L323.73,209.94 L324.34,206.26 L324.95,203.34 L325.56,201.22 L326.17,199.97 L326.77,199.64 L327.38,200.30 L327.99,202.00 L328.60,204.80 L329.21,208.74 L329.82,213.76 L330.42,219.76 L331.03,226.67 L331.64,234.41 L332.25,242.87 L332.86,251.98 L333.47,261.65 L334.07,271.80 L334.68,282.34 L335.29,293.18 L335.90,304.24 L336.51,315.43 L337.12,326.67 L337.72,337.88 L338.33,348.95 L338.94,359.82 L339.55,370.39 L340.16,380.58 L340.77,390.30 L341.38,399.47 L341.98,408.00 L342.59,415.80 L343.20,422.79 L343.81,428.91 L344.42,434.18 L345.02,438.64 L345.63,442.35 L346.24,445.35 L346.85,447.68 L347.46,449.40 L348.07,450.55 L348.67,451.17 L349.28,451.31 L349.89,451.02 L350.50,450.35 L351.11,449.34 L351.72,448.04 L352.32,446.49 L352.93,444.74 L353.54,442.84 L354.15,440.83 L354.76,438.77 L355.37,436.69 L355.97,434.65 L356.58,432.68 L357.19,430.84 L357.80,429.18 L358.41,427.72 L359.02,426.48 L359.62,425.43 L360.23,424.57 L360.84,423.88 L361.45,423.36 L362.06,423.00 L362.67,422.77 L363.27,422.68 L363.88,422.71 L364.49,422.85 L365.10,423.09 L365.71,423.42 L366.32,423.82 L366.92,424.29 L367.53,424.82 L368.14,425.39 L368.75,425.99 L369.36,426.62 L369.97,427.26 L370.57,427.90 L371.18,428.52 L371.79,429.13 L372.40,429.71 L373.01,430.24 L373.62,430.73 L374.23,431.18 L374.83,431.59 L375.44,431.96 L376.05,432.29 L376.66,432.58 L377.27,432.83 L377.88,433.05 L378.48,433.22 L379.09,433.37 L379.70,433.48 L380.31,433.55 L380.92,433.59 L381.52,433.60 L382.13,433.58 L382.74,433.53 L383.35,433.44 L383.96,433.33 L384.57,433.19 L385.17,433.01 L385.78,432.82 L386.39,432.59 L387.00,432.34 L387.61,432.07 L388.22,431.77 L388.82,431.45 L389.43,431.11 L390.04,430.75 L390.65,430.38 L391.26,429.99 L391.87,429.59 L392.48,429.17 L393.08,428.75 L393.69,428.31 L394.30,427.87 L394.91,427.42 L395.52,426.97 L396.12,426.52 L396.73,426.07 L397.34,425.61 L397.95,425.17 L398.56,424.72 L399.17,424.28 L399.77,423.85 L400.38,423.43 L400.99,423.02 L401.60,422.62 L402.21,422.23 L402.82,421.86 L403.42,421.51 L404.03,421.18 L404.64,420.87 L405.25,420.58 L405.86,420.32 L406.47,420.08 L407.07,419.88 L407.68,419.70 L408.29,419.56 L408.90,419.45 L409.51,419.37 L410.12,419.33 L410.73,419.34 L411.33,419.38 L411.94,419.47 L412.55,419.60 L413.16,419.78 L413.77,420.01 L414.38,420.29 L414.98,420.62 L415.59,421.00 L416.20,421.44 L416.81,421.94 L417.42,422.49 L418.02,423.08 L418.63,423.71 L419.24,424.38 L419.85,425.06 L420.46,425.77 L421.07,426.49 L421.67,427.21 L422.28,427.93 L422.89,428.64 L423.50,429.34 L424.11,430.02 L424.72,430.67 L425.32,431.29 L425.93,431.86 L426.54,432.39 L427.15,432.87 L427.76,433.28 L428.37,433.63 L428.98,433.90 L429.58,434.10 L430.19,434.20 L430.80,434.22 L431.41,434.14 L432.02,433.96 L432.62,433.71 L433.23,433.38 L433.84,432.99 L434.45,432.55 L435.06,432.06 L435.67,431.53 L436.27,430.98 L436.88,430.41 L437.49,429.84 L438.10,429.26 L438.71,428.69 L439.32,428.14 L439.92,427.62 L440.53,427.14 L441.14,426.71 L441.75,426.33 L442.36,426.01 L442.97,425.77 L443.57,425.61 L444.18,425.54 L444.79,425.58 L445.40,425.72 L446.01,425.98 L446.62,426.35 L447.23,426.80 L447.83,427.33 L448.44,427.93 L449.05,428.57 L449.66,429.24 L450.27,429.93 L450.88,430.63 L451.48,431.31 L452.09,431.97 L452.70,432.58 L453.31,433.14 L453.92,433.64 L454.52,434.05 L455.13,434.36 L455.74,434.56 L456.35,434.63 L456.96,434.56 L457.57,434.34 L458.17,433.94 L458.78,433.36 L459.39,432.58 L460.00,431.58 L460.61,430.36 L461.22,428.94 L461.82,427.33 L462.43,425.56 L463.04,423.65 L463.65,421.63 L464.26,419.51 L464.87,417.31 L465.48,415.07 L466.08,412.80 L466.69,410.52 L467.30,408.26 L467.91,406.04 L468.52,403.88 L469.12,401.80 L469.73,399.83 L470.34,397.99 L470.95,396.30 L471.56,394.78 L472.17,393.46 L472.77,392.35 L473.38,391.48 L473.99,390.88 L474.60,390.56 L475.21,390.54 L475.82,390.81 L476.42,391.35 L477.03,392.13 L477.64,393.14 L478.25,394.36 L478.86,395.77 L479.47,397.36 L480.07,399.09 L480.68,400.95 L481.29,402.92 L481.90,404.99 L482.51,407.13 L483.12,409.32 L483.73,411.54 L484.33,413.78 L484.94,416.01 L485.55,418.22 L486.16,420.38 L486.77,422.47 L487.38,424.49 L487.98,426.40 L488.59,428.18 L489.20,429.82 L489.81,431.31 L490.42,432.64 L491.02,433.82 L491.63,434.86 L492.24,435.77 L492.85,436.55 L493.46,437.22 L494.07,437.77 L494.67,438.22 L495.28,438.57 L495.89,438.83 L496.50,439.00 L497.11,439.10 L497.72,439.13 L498.32,439.10 L498.93,439.02 L499.54,438.89 L500.15,438.72 L500.76,438.52 L501.37,438.29 L501.98,438.04 L502.58,437.78 L503.19,437.52 L503.80,437.27 L504.41,437.02 L505.02,436.78 L505.62,436.56 L506.23,436.35 L506.84,436.15 L507.45,435.96 L508.06,435.80 L508.67,435.64 L509.27,435.51 L509.88,435.39 L510.49,435.29 L511.10,435.21 L511.71,435.15 L512.32,435.10 L512.92,435.08 L513.53,435.09 L514.14,435.11 L514.75,435.16 L515.36,435.23 L515.97,435.33 L516.57,435.45 L517.18,435.60 L517.79,435.77 L518.40,435.98 L519.01,436.21 L519.62,436.46 L520.23,436.73 L520.83,437.02 L521.44,437.30 L522.05,437.59 L522.66,437.88 L523.27,438.15 L523.88,438.40 L524.48,438.63 L525.09,438.84 L525.70,439.00 L526.31,439.13 L526.92,439.22 L527.52,439.25 L528.13,439.22 L528.74,439.13 L529.35,438.97 L529.96,438.74 L530.57,438.43 L531.17,438.03 L531.78,437.55 L532.39,436.96 L533.00,436.27 L533.63,435.44 L534.27,434.49 L534.90,433.44 L535.54,432.28 L536.17,431.03 L536.81,429.68 L537.44,428.24 L538.08,426.73 L538.71,425.13 L539.35,423.47 L539.98,421.73 L540.62,419.94 L541.25,418.09 L541.89,416.18 L542.52,414.24 L543.16,412.24 L543.79,410.22 L544.43,408.16 L545.06,406.08 L545.70,403.98 L546.33,401.86 L546.97,399.73 L547.60,397.59" fill="none" stroke="#1A6FDF" stroke-width="1.7" stroke-linejoin="round"/>
<path d="M109.60,404.08L112.00,408.28L107.20,408.28Z" fill="#1A6FDF"/>
<path d="M124.20,404.43L126.60,408.63L121.80,408.63Z" fill="#1A6FDF"/>
<path d="M138.80,406.71L141.20,410.91L136.40,410.91Z" fill="#1A6FDF"/>
<path d="M153.40,401.97L155.80,406.17L151.00,406.17Z" fill="#1A6FDF"/>
<path d="M168.00,412.87L170.40,417.07L165.60,417.07Z" fill="#1A6FDF"/>
<path d="M182.60,417.44L185.00,421.64L180.20,421.64Z" fill="#1A6FDF"/>
<path d="M197.20,421.13L199.60,425.33L194.80,425.33Z" fill="#1A6FDF"/>
<path d="M211.80,424.29L214.20,428.49L209.40,428.49Z" fill="#1A6FDF"/>
<path d="M226.40,425.88L228.80,430.08L224.00,430.08Z" fill="#1A6FDF"/>
<path d="M241.00,426.05L243.40,430.25L238.60,430.25Z" fill="#1A6FDF"/>
<path d="M255.60,426.76L258.00,430.96L253.20,430.96Z" fill="#1A6FDF"/>
<path d="M270.20,425.17L272.60,429.37L267.80,429.37Z" fill="#1A6FDF"/>
<path d="M284.80,427.81L287.20,432.01L282.40,432.01Z" fill="#1A6FDF"/>
<path d="M299.40,426.93L301.80,431.13L297.00,431.13Z" fill="#1A6FDF"/>
<path d="M314.00,319.40L316.40,323.60L311.60,323.60Z" fill="#1A6FDF"/>
<path d="M328.60,202.20L331.00,206.40L326.20,206.40Z" fill="#1A6FDF"/>
<path d="M343.20,420.19L345.60,424.39L340.80,424.39Z" fill="#1A6FDF"/>
<path d="M357.80,426.58L360.20,430.78L355.40,430.78Z" fill="#1A6FDF"/>
<path d="M372.40,427.11L374.80,431.31L370.00,431.31Z" fill="#1A6FDF"/>
<path d="M387.00,429.74L389.40,433.94L384.60,433.94Z" fill="#1A6FDF"/>
<path d="M401.60,420.02L404.00,424.22L399.20,424.22Z" fill="#1A6FDF"/>
<path d="M416.20,418.84L418.60,423.04L413.80,423.04Z" fill="#1A6FDF"/>
<path d="M430.80,431.62L433.20,435.82L428.40,435.82Z" fill="#1A6FDF"/>
<path d="M445.40,423.12L447.80,427.32L443.00,427.32Z" fill="#1A6FDF"/>
<path d="M460.00,428.98L462.40,433.18L457.60,433.18Z" fill="#1A6FDF"/>
<path d="M474.60,387.96L477.00,392.16L472.20,392.16Z" fill="#1A6FDF"/>
<path d="M489.20,427.22L491.60,431.42L486.80,431.42Z" fill="#1A6FDF"/>
<path d="M503.80,434.67L506.20,438.87L501.40,438.87Z" fill="#1A6FDF"/>
<path d="M518.40,433.38L520.80,437.58L516.00,437.58Z" fill="#1A6FDF"/>
<path d="M533.00,433.67L535.40,437.87L530.60,437.87Z" fill="#1A6FDF"/>
<path d="M547.60,394.99L550.00,399.19L545.20,399.19Z" fill="#1A6FDF"/>
<path d="M109.60,395.84 L110.21,395.78 L110.82,395.73 L111.42,395.67 L112.03,395.62 L112.64,395.57 L113.25,395.53 L113.86,395.49 L114.47,395.46 L115.07,395.43 L115.68,395.41 L116.29,395.40 L116.90,395.39 L117.51,395.40 L118.12,395.41 L118.72,395.44 L119.33,395.48 L119.94,395.53 L120.55,395.59 L121.16,395.67 L121.77,395.77 L122.38,395.88 L122.98,396.00 L123.59,396.14 L124.20,396.30 L124.81,396.48 L125.42,396.68 L126.02,396.89 L126.63,397.11 L127.24,397.33 L127.85,397.56 L128.46,397.80 L129.07,398.03 L129.67,398.26 L130.28,398.48 L130.89,398.69 L131.50,398.89 L132.11,399.08 L132.72,399.25 L133.32,399.40 L133.93,399.52 L134.54,399.62 L135.15,399.69 L135.76,399.73 L136.37,399.74 L136.97,399.70 L137.58,399.63 L138.19,399.51 L138.80,399.35 L139.41,399.14 L140.02,398.89 L140.62,398.60 L141.23,398.28 L141.84,397.93 L142.45,397.56 L143.06,397.17 L143.67,396.77 L144.27,396.36 L144.88,395.95 L145.49,395.54 L146.10,395.15 L146.71,394.77 L147.32,394.41 L147.92,394.07 L148.53,393.76 L149.14,393.49 L149.75,393.26 L150.36,393.08 L150.97,392.94 L151.57,392.86 L152.18,392.85 L152.79,392.90 L153.40,393.02 L154.01,393.22 L154.62,393.49 L155.22,393.83 L155.83,394.23 L156.44,394.69 L157.05,395.20 L157.66,395.76 L158.27,396.35 L158.88,396.99 L159.48,397.66 L160.09,398.35 L160.70,399.07 L161.31,399.80 L161.92,400.55 L162.52,401.30 L163.13,402.06 L163.74,402.81 L164.35,403.55 L164.96,404.28 L165.57,404.99 L166.17,405.68 L166.78,406.34 L167.39,406.97 L168.00,407.56 L168.61,408.10 L169.22,408.61 L169.82,409.07 L170.43,409.50 L171.04,409.89 L171.65,410.25 L172.26,410.59 L172.87,410.89 L173.47,411.16 L174.08,411.42 L174.69,411.65 L175.30,411.86 L175.91,412.05 L176.52,412.23 L177.12,412.39 L177.73,412.55 L178.34,412.69 L178.95,412.83 L179.56,412.97 L180.17,413.10 L180.77,413.23 L181.38,413.37 L181.99,413.51 L182.60,413.65 L183.21,413.80 L183.82,413.96 L184.42,414.13 L185.03,414.31 L185.64,414.49 L186.25,414.68 L186.86,414.88 L187.47,415.08 L188.07,415.28 L188.68,415.49 L189.29,415.70 L189.90,415.92 L190.51,416.13 L191.12,416.35 L191.72,416.58 L192.33,416.80 L192.94,417.02 L193.55,417.25 L194.16,417.47 L194.77,417.70 L195.38,417.92 L195.98,418.14 L196.59,418.36 L197.20,418.57 L197.81,418.79 L198.42,418.99 L199.02,419.20 L199.63,419.40 L200.24,419.60 L200.85,419.80 L201.46,419.99 L202.07,420.19 L202.67,420.37 L203.28,420.56 L203.89,420.74 L204.50,420.91 L205.11,421.09 L205.72,421.26 L206.32,421.43 L206.93,421.59 L207.54,421.75 L208.15,421.91 L208.76,422.07 L209.37,422.22 L209.97,422.37 L210.58,422.51 L211.19,422.65 L211.80,422.79 L212.41,422.93 L213.02,423.06 L213.62,423.19 L214.23,423.31 L214.84,423.43 L215.45,423.55 L216.06,423.66 L216.67,423.77 L217.27,423.88 L217.88,423.98 L218.49,424.08 L219.10,424.17 L219.71,424.26 L220.32,424.34 L220.92,424.42 L221.53,424.49 L222.14,424.56 L222.75,424.63 L223.36,424.68 L223.97,424.74 L224.57,424.79 L225.18,424.83 L225.79,424.87 L226.40,424.90 L227.01,424.93 L227.62,424.95 L228.22,424.97 L228.83,424.98 L229.44,424.99 L230.05,425.00 L230.66,425.00 L231.27,425.00 L231.88,425.00 L232.48,425.00 L233.09,425.00 L233.70,425.00 L234.31,425.00 L234.92,424.99 L235.52,424.99 L236.13,425.00 L236.74,425.00 L237.35,425.01 L237.96,425.02 L238.57,425.03 L239.17,425.05 L239.78,425.07 L240.39,425.10 L241.00,425.14 L241.61,425.18 L242.22,425.22 L242.82,425.27 L243.43,425.33 L244.04,425.38 L244.65,425.44 L245.26,425.50 L245.87,425.57 L246.47,425.63 L247.08,425.69 L247.69,425.75 L248.30,425.81 L248.91,425.87 L249.52,425.92 L250.12,425.97 L250.73,426.01 L251.34,426.05 L251.95,426.08 L252.56,426.10 L253.17,426.11 L253.77,426.12 L254.38,426.11 L254.99,426.10 L255.60,426.07 L256.21,426.04 L256.82,425.99 L257.42,425.93 L258.03,425.86 L258.64,425.79 L259.25,425.70 L259.86,425.61 L260.47,425.52 L261.07,425.42 L261.68,425.31 L262.29,425.21 L262.90,425.10 L263.51,424.99 L264.12,424.88 L264.73,424.77 L265.33,424.66 L265.94,424.55 L266.55,424.45 L267.16,424.35 L267.77,424.26 L268.38,424.18 L268.98,424.10 L269.59,424.03 L270.20,423.96 L270.81,423.91 L271.42,423.87 L272.02,423.84 L272.63,423.82 L273.24,423.82 L273.85,423.83 L274.46,423.85 L275.07,423.89 L275.67,423.95 L276.28,424.03 L276.89,424.12 L277.50,424.24 L278.11,424.37 L278.72,424.53 L279.32,424.71 L279.93,424.91 L280.54,425.14 L281.15,425.39 L281.76,425.67 L282.37,425.97 L282.98,426.31 L283.58,426.67 L284.19,427.06 L284.80,427.48 L285.41,427.93 L286.02,428.41 L286.62,428.89 L287.23,429.38 L287.84,429.87 L288.45,430.35 L289.06,430.80 L289.67,431.22 L290.27,431.60 L290.88,431.93 L291.49,432.20 L292.10,432.40 L292.71,432.53 L293.32,432.57 L293.92,432.52 L294.53,432.36 L295.14,432.09 L295.75,431.70 L296.36,431.18 L296.97,430.52 L297.57,429.71 L298.18,428.75 L298.79,427.62 L299.40,426.31 L300.01,424.82 L300.62,423.13 L301.23,421.23 L301.83,419.10 L302.44,416.74 L303.05,414.14 L303.66,411.27 L304.27,408.13 L304.88,404.70 L305.48,400.98 L306.09,396.94 L306.70,392.58 L307.31,387.88 L307.92,382.83 L308.52,377.42 L309.13,371.63 L309.74,365.45 L310.35,358.88 L310.96,351.88 L311.57,344.47 L312.17,336.61 L312.78,328.30 L313.39,319.53 L314.00,310.28 L314.61,300.56 L315.22,290.43 L315.82,279.98 L316.43,269.31 L317.04,258.48 L317.65,247.60 L318.26,236.74 L318.87,226.00 L319.48,215.46 L320.08,205.20 L320.69,195.31 L321.30,185.88 L321.91,177.00 L322.52,168.74 L323.12,161.20 L323.73,154.46 L324.34,148.61 L324.95,143.73 L325.56,139.92 L326.17,137.25 L326.77,135.81 L327.38,135.69 L327.99,136.98 L328.60,139.75 L329.21,144.08 L329.82,149.86 L330.42,156.99 L331.03,165.36 L331.64,174.86 L332.25,185.36 L332.86,196.75 L333.47,208.92 L334.07,221.76 L334.68,235.16 L335.29,248.99 L335.90,263.15 L336.51,277.51 L337.12,291.98 L337.72,306.43 L338.33,320.75 L338.94,334.82 L339.55,348.53 L340.16,361.78 L340.77,374.44 L341.38,386.39 L341.98,397.54 L342.59,407.76 L343.20,416.93 L343.81,424.98 L344.42,431.94 L345.02,437.85 L345.63,442.79 L346.24,446.82 L346.85,449.98 L347.46,452.35 L348.07,453.97 L348.67,454.92 L349.28,455.24 L349.89,455.00 L350.50,454.26 L351.11,453.08 L351.72,451.51 L352.32,449.62 L352.93,447.46 L353.54,445.10 L354.15,442.59 L354.76,439.99 L355.37,437.37 L355.97,434.77 L356.58,432.27 L357.19,429.92 L357.80,427.77 L358.41,425.89 L359.02,424.25 L359.62,422.87 L360.23,421.71 L360.84,420.76 L361.45,420.02 L362.06,419.47 L362.67,419.10 L363.27,418.89 L363.88,418.83 L364.49,418.91 L365.10,419.12 L365.71,419.43 L366.32,419.85 L366.92,420.35 L367.53,420.92 L368.14,421.56 L368.75,422.23 L369.36,422.95 L369.97,423.68 L370.57,424.42 L371.18,425.15 L371.79,425.86 L372.40,426.54 L373.01,427.18 L373.62,427.77 L374.23,428.32 L374.83,428.83 L375.44,429.29 L376.05,429.70 L376.66,430.07 L377.27,430.40 L377.88,430.69 L378.48,430.93 L379.09,431.13 L379.70,431.29 L380.31,431.41 L380.92,431.49 L381.52,431.53 L382.13,431.52 L382.74,431.48 L383.35,431.39 L383.96,431.27 L384.57,431.10 L385.17,430.90 L385.78,430.66 L386.39,430.38 L387.00,430.06 L387.61,429.70 L388.22,429.31 L388.82,428.89 L389.43,428.43 L390.04,427.95 L390.65,427.44 L391.26,426.91 L391.87,426.36 L392.48,425.79 L393.08,425.20 L393.69,424.61 L394.30,424.00 L394.91,423.38 L395.52,422.76 L396.12,422.13 L396.73,421.50 L397.34,420.88 L397.95,420.26 L398.56,419.64 L399.17,419.04 L399.77,418.44 L400.38,417.86 L400.99,417.30 L401.60,416.76 L402.21,416.23 L402.82,415.73 L403.42,415.26 L404.03,414.82 L404.64,414.40 L405.25,414.02 L405.86,413.67 L406.47,413.36 L407.07,413.09 L407.68,412.86 L408.29,412.67 L408.90,412.53 L409.51,412.43 L410.12,412.39 L410.73,412.40 L411.33,412.46 L411.94,412.58 L412.55,412.75 L413.16,412.99 L413.77,413.29 L414.38,413.66 L414.98,414.09 L415.59,414.60 L416.20,415.17 L416.81,415.82 L417.42,416.54 L418.02,417.31 L418.63,418.13 L419.24,419.00 L419.85,419.89 L420.46,420.82 L421.07,421.76 L421.67,422.71 L422.28,423.67 L422.89,424.62 L423.50,425.55 L424.11,426.46 L424.72,427.34 L425.32,428.19 L425.93,428.99 L426.54,429.73 L427.15,430.41 L427.76,431.03 L428.37,431.56 L428.98,432.01 L429.58,432.36 L430.19,432.61 L430.80,432.75 L431.41,432.78 L432.02,432.70 L432.62,432.51 L433.23,432.24 L433.84,431.88 L434.45,431.44 L435.06,430.94 L435.67,430.38 L436.27,429.77 L436.88,429.12 L437.49,428.43 L438.10,427.72 L438.71,427.00 L439.32,426.27 L439.92,425.55 L440.53,424.83 L441.14,424.13 L441.75,423.46 L442.36,422.83 L442.97,422.24 L443.57,421.71 L444.18,421.23 L444.79,420.83 L445.40,420.51 L446.01,420.27 L446.62,420.11 L447.23,420.04 L447.83,420.03 L448.44,420.10 L449.05,420.22 L449.66,420.41 L450.27,420.65 L450.88,420.93 L451.48,421.26 L452.09,421.63 L452.70,422.04 L453.31,422.47 L453.92,422.92 L454.52,423.40 L455.13,423.89 L455.74,424.38 L456.35,424.89 L456.96,425.39 L457.57,425.88 L458.17,426.37 L458.78,426.84 L459.39,427.29 L460.00,427.71 L460.61,428.11 L461.22,428.48 L461.82,428.81 L462.43,429.12 L463.04,429.40 L463.65,429.65 L464.26,429.87 L464.87,430.07 L465.48,430.24 L466.08,430.38 L466.69,430.50 L467.30,430.59 L467.91,430.65 L468.52,430.70 L469.12,430.71 L469.73,430.70 L470.34,430.67 L470.95,430.62 L471.56,430.54 L472.17,430.44 L472.77,430.32 L473.38,430.17 L473.99,430.01 L474.60,429.82 L475.21,429.62 L475.82,429.39 L476.42,429.16 L477.03,428.90 L477.64,428.64 L478.25,428.38 L478.86,428.11 L479.47,427.83 L480.07,427.56 L480.68,427.29 L481.29,427.03 L481.90,426.78 L482.51,426.54 L483.12,426.32 L483.73,426.11 L484.33,425.92 L484.94,425.76 L485.55,425.62 L486.16,425.51 L486.77,425.43 L487.38,425.39 L487.98,425.38 L488.59,425.41 L489.20,425.49 L489.81,425.60 L490.42,425.76 L491.02,425.96 L491.63,426.19 L492.24,426.45 L492.85,426.74 L493.46,427.06 L494.07,427.39 L494.67,427.74 L495.28,428.11 L495.89,428.48 L496.50,428.87 L497.11,429.25 L497.72,429.64 L498.32,430.02 L498.93,430.40 L499.54,430.77 L500.15,431.12 L500.76,431.45 L501.37,431.77 L501.98,432.06 L502.58,432.32 L503.19,432.56 L503.80,432.75 L504.41,432.92 L505.02,433.04 L505.62,433.14 L506.23,433.21 L506.84,433.26 L507.45,433.29 L508.06,433.30 L508.67,433.30 L509.27,433.28 L509.88,433.27 L510.49,433.25 L511.10,433.24 L511.71,433.23 L512.32,433.23 L512.92,433.24 L513.53,433.27 L514.14,433.31 L514.75,433.39 L515.36,433.49 L515.97,433.61 L516.57,433.78 L517.18,433.98 L517.79,434.22 L518.40,434.51 L519.01,434.85 L519.62,435.22 L520.23,435.63 L520.83,436.06 L521.44,436.50 L522.05,436.95 L522.66,437.40 L523.27,437.84 L523.88,438.25 L524.48,438.64 L525.09,438.99 L525.70,439.29 L526.31,439.55 L526.92,439.73 L527.52,439.85 L528.13,439.89 L528.74,439.83 L529.35,439.68 L529.96,439.43 L530.57,439.06 L531.17,438.57 L531.78,437.95 L532.39,437.18 L533.00,436.27 L533.63,435.15 L534.27,433.87 L534.90,432.44 L535.54,430.85 L536.17,429.13 L536.81,427.27 L537.44,425.28 L538.08,423.17 L538.71,420.95 L539.35,418.63 L539.98,416.21 L540.62,413.71 L541.25,411.12 L541.89,408.45 L542.52,405.72 L543.16,402.93 L543.79,400.09 L544.43,397.20 L545.06,394.28 L545.70,391.32 L546.33,388.35 L546.97,385.36 L547.60,382.36" fill="none" stroke="#37AD6B" stroke-width="1.7" stroke-linejoin="round"/>
<path d="M109.60,398.44L112.00,394.24L107.20,394.24Z" fill="#37AD6B"/>
<path d="M124.20,398.90L126.60,394.70L121.80,394.70Z" fill="#37AD6B"/>
<path d="M138.80,401.95L141.20,397.75L136.40,397.75Z" fill="#37AD6B"/>
<path d="M153.40,395.62L155.80,391.42L151.00,391.42Z" fill="#37AD6B"/>
<path d="M168.00,410.16L170.40,405.96L165.60,405.96Z" fill="#37AD6B"/>
<path d="M182.60,416.25L185.00,412.05L180.20,412.05Z" fill="#37AD6B"/>
<path d="M197.20,421.17L199.60,416.97L194.80,416.97Z" fill="#37AD6B"/>
<path d="M211.80,425.39L214.20,421.19L209.40,421.19Z" fill="#37AD6B"/>
<path d="M226.40,427.50L228.80,423.30L224.00,423.30Z" fill="#37AD6B"/>
<path d="M241.00,427.74L243.40,423.54L238.60,423.54Z" fill="#37AD6B"/>
<path d="M255.60,428.67L258.00,424.47L253.20,424.47Z" fill="#37AD6B"/>
<path d="M270.20,426.56L272.60,422.36L267.80,422.36Z" fill="#37AD6B"/>
<path d="M284.80,430.08L287.20,425.88L282.40,425.88Z" fill="#37AD6B"/>
<path d="M299.40,428.91L301.80,424.71L297.00,424.71Z" fill="#37AD6B"/>
<path d="M314.00,312.88L316.40,308.68L311.60,308.68Z" fill="#37AD6B"/>
<path d="M328.60,142.35L331.00,138.15L326.20,138.15Z" fill="#37AD6B"/>
<path d="M343.20,419.53L345.60,415.33L340.80,415.33Z" fill="#37AD6B"/>
<path d="M357.80,430.37L360.20,426.17L355.40,426.17Z" fill="#37AD6B"/>
<path d="M372.40,429.14L374.80,424.94L370.00,424.94Z" fill="#37AD6B"/>
<path d="M387.00,432.66L389.40,428.46L384.60,428.46Z" fill="#37AD6B"/>
<path d="M401.60,419.36L404.00,415.16L399.20,415.16Z" fill="#37AD6B"/>
<path d="M416.20,417.77L418.60,413.57L413.80,413.57Z" fill="#37AD6B"/>
<path d="M430.80,435.35L433.20,431.15L428.40,431.15Z" fill="#37AD6B"/>
<path d="M445.40,423.11L447.80,418.91L443.00,418.91Z" fill="#37AD6B"/>
<path d="M460.00,430.31L462.40,426.11L457.60,426.11Z" fill="#37AD6B"/>
<path d="M474.60,432.42L477.00,428.22L472.20,428.22Z" fill="#37AD6B"/>
<path d="M489.20,428.09L491.60,423.89L486.80,423.89Z" fill="#37AD6B"/>
<path d="M503.80,435.35L506.20,431.15L501.40,431.15Z" fill="#37AD6B"/>
<path d="M518.40,437.11L520.80,432.91L516.00,432.91Z" fill="#37AD6B"/>
<path d="M533.00,438.87L535.40,434.67L530.60,434.67Z" fill="#37AD6B"/>
<path d="M547.60,384.96L550.00,380.76L545.20,380.76Z" fill="#37AD6B"/>
<path d="M109.60,385.00 L110.21,384.93 L110.82,384.86 L111.42,384.79 L112.03,384.73 L112.64,384.67 L113.25,384.61 L113.86,384.56 L114.47,384.52 L115.07,384.49 L115.68,384.46 L116.29,384.45 L116.90,384.44 L117.51,384.45 L118.12,384.47 L118.72,384.50 L119.33,384.55 L119.94,384.61 L120.55,384.69 L121.16,384.79 L121.77,384.91 L122.38,385.04 L122.98,385.20 L123.59,385.38 L124.20,385.58 L124.81,385.80 L125.42,386.05 L126.02,386.31 L126.63,386.58 L127.24,386.87 L127.85,387.15 L128.46,387.45 L129.07,387.74 L129.67,388.02 L130.28,388.30 L130.89,388.57 L131.50,388.82 L132.11,389.05 L132.72,389.26 L133.32,389.45 L133.93,389.60 L134.54,389.73 L135.15,389.82 L135.76,389.86 L136.37,389.87 L136.97,389.83 L137.58,389.74 L138.19,389.59 L138.80,389.39 L139.41,389.13 L140.02,388.81 L140.62,388.45 L141.23,388.05 L141.84,387.61 L142.45,387.15 L143.06,386.66 L143.67,386.16 L144.27,385.65 L144.88,385.14 L145.49,384.63 L146.10,384.14 L146.71,383.66 L147.32,383.21 L147.92,382.79 L148.53,382.40 L149.14,382.06 L149.75,381.78 L150.36,381.54 L150.97,381.38 L151.57,381.28 L152.18,381.26 L152.79,381.33 L153.40,381.48 L154.01,381.73 L154.62,382.07 L155.22,382.49 L155.83,382.99 L156.44,383.56 L157.05,384.20 L157.66,384.89 L158.27,385.64 L158.88,386.44 L159.48,387.27 L160.09,388.14 L160.70,389.04 L161.31,389.96 L161.92,390.89 L162.52,391.83 L163.13,392.77 L163.74,393.71 L164.35,394.64 L164.96,395.55 L165.57,396.44 L166.17,397.30 L166.78,398.13 L167.39,398.91 L168.00,399.64 L168.61,400.33 L169.22,400.96 L169.82,401.54 L170.43,402.08 L171.04,402.57 L171.65,403.02 L172.26,403.43 L172.87,403.81 L173.47,404.16 L174.08,404.47 L174.69,404.76 L175.30,405.02 L175.91,405.26 L176.52,405.49 L177.12,405.69 L177.73,405.89 L178.34,406.07 L178.95,406.24 L179.56,406.41 L180.17,406.58 L180.77,406.74 L181.38,406.91 L181.99,407.08 L182.60,407.26 L183.21,407.45 L183.82,407.66 L184.42,407.87 L185.03,408.09 L185.64,408.32 L186.25,408.55 L186.86,408.79 L187.47,409.04 L188.07,409.30 L188.68,409.56 L189.29,409.83 L189.90,410.09 L190.51,410.37 L191.12,410.64 L191.72,410.92 L192.33,411.20 L192.94,411.48 L193.55,411.76 L194.16,412.04 L194.77,412.32 L195.38,412.60 L195.98,412.87 L196.59,413.15 L197.20,413.42 L197.81,413.68 L198.42,413.94 L199.02,414.20 L199.63,414.46 L200.24,414.71 L200.85,414.95 L201.46,415.19 L202.07,415.43 L202.67,415.67 L203.28,415.90 L203.89,416.12 L204.50,416.34 L205.11,416.56 L205.72,416.78 L206.32,416.99 L206.93,417.19 L207.54,417.39 L208.15,417.59 L208.76,417.78 L209.37,417.97 L209.97,418.16 L210.58,418.34 L211.19,418.52 L211.80,418.69 L212.41,418.86 L213.02,419.02 L213.62,419.18 L214.23,419.34 L214.84,419.49 L215.45,419.64 L216.06,419.78 L216.67,419.91 L217.27,420.04 L217.88,420.17 L218.49,420.29 L219.10,420.41 L219.71,420.52 L220.32,420.62 L220.92,420.72 L221.53,420.81 L222.14,420.90 L222.75,420.98 L223.36,421.05 L223.97,421.12 L224.57,421.18 L225.18,421.24 L225.79,421.29 L226.40,421.33 L227.01,421.36 L227.62,421.39 L228.22,421.41 L228.83,421.43 L229.44,421.44 L230.05,421.45 L230.66,421.46 L231.27,421.46 L231.88,421.46 L232.48,421.46 L233.09,421.46 L233.70,421.46 L234.31,421.46 L234.92,421.46 L235.52,421.46 L236.13,421.46 L236.74,421.46 L237.35,421.47 L237.96,421.48 L238.57,421.50 L239.17,421.52 L239.78,421.55 L240.39,421.58 L241.00,421.62 L241.61,421.67 L242.22,421.72 L242.82,421.78 L243.43,421.84 L244.04,421.91 L244.65,421.98 L245.26,422.05 L245.87,422.12 L246.47,422.20 L247.08,422.27 L247.69,422.34 L248.30,422.41 L248.91,422.48 L249.52,422.54 L250.12,422.60 L250.73,422.66 L251.34,422.70 L251.95,422.74 L252.56,422.78 L253.17,422.80 L253.77,422.82 L254.38,422.82 L254.99,422.81 L255.60,422.79 L256.21,422.76 L256.82,422.72 L257.42,422.66 L258.03,422.59 L258.64,422.52 L259.25,422.43 L259.86,422.33 L260.47,422.23 L261.07,422.12 L261.68,422.01 L262.29,421.89 L262.90,421.76 L263.51,421.63 L264.12,421.50 L264.73,421.36 L265.33,421.23 L265.94,421.09 L266.55,420.95 L267.16,420.81 L267.77,420.67 L268.38,420.54 L268.98,420.41 L269.59,420.28 L270.20,420.15 L270.81,420.04 L271.42,419.92 L272.02,419.82 L272.63,419.73 L273.24,419.66 L273.85,419.61 L274.46,419.57 L275.07,419.56 L275.67,419.57 L276.28,419.61 L276.89,419.68 L277.50,419.79 L278.11,419.93 L278.72,420.11 L279.32,420.32 L279.93,420.59 L280.54,420.89 L281.15,421.25 L281.76,421.66 L282.37,422.12 L282.98,422.64 L283.58,423.21 L284.19,423.85 L284.80,424.55 L285.41,425.31 L286.02,426.13 L286.62,426.97 L287.23,427.84 L287.84,428.70 L288.45,429.55 L289.06,430.36 L289.67,431.12 L290.27,431.82 L290.88,432.44 L291.49,432.95 L292.10,433.35 L292.71,433.62 L293.32,433.74 L293.92,433.69 L294.53,433.46 L295.14,433.03 L295.75,432.39 L296.36,431.52 L296.97,430.39 L297.57,429.00 L298.18,427.33 L298.79,425.37 L299.40,423.08 L300.01,420.47 L300.62,417.53 L301.23,414.25 L301.83,410.63 L302.44,406.67 L303.05,402.37 L303.66,397.72 L304.27,392.72 L304.88,387.37 L305.48,381.67 L306.09,375.61 L306.70,369.20 L307.31,362.42 L307.92,355.29 L308.52,347.78 L309.13,339.91 L309.74,331.67 L310.35,323.05 L310.96,314.06 L311.57,304.70 L312.17,294.95 L312.78,284.82 L313.39,274.30 L314.00,263.40 L314.61,252.12 L315.22,240.54 L315.82,228.75 L316.43,216.83 L317.04,204.88 L317.65,192.97 L318.26,181.21 L318.87,169.67 L319.48,158.45 L320.08,147.63 L320.69,137.30 L321.30,127.55 L321.91,118.47 L322.52,110.15 L323.12,102.67 L323.73,96.12 L324.34,90.59 L324.95,86.18 L325.56,82.96 L326.17,81.02 L326.77,80.46 L327.38,81.36 L327.99,83.81 L328.60,87.89 L329.21,93.67 L329.82,101.05 L330.42,109.89 L331.03,120.09 L331.64,131.50 L332.25,144.01 L332.86,157.48 L333.47,171.79 L334.07,186.82 L334.68,202.43 L335.29,218.50 L335.90,234.91 L336.51,251.52 L337.12,268.21 L337.72,284.85 L338.33,301.32 L338.94,317.49 L339.55,333.24 L340.16,348.43 L340.77,362.94 L341.38,376.65 L341.98,389.42 L342.59,401.13 L343.20,411.66 L343.81,420.90 L344.42,428.90 L345.02,435.72 L345.63,441.43 L346.24,446.10 L346.85,449.79 L347.46,452.57 L348.07,454.50 L348.67,455.66 L349.28,456.11 L349.89,455.92 L350.50,455.15 L351.11,453.88 L351.72,452.16 L352.32,450.07 L352.93,447.68 L353.54,445.04 L354.15,442.24 L354.76,439.33 L355.37,436.38 L355.97,433.46 L356.58,430.64 L357.19,427.98 L357.80,425.55 L358.41,423.40 L359.02,421.54 L359.62,419.95 L360.23,418.61 L360.84,417.51 L361.45,416.64 L362.06,415.98 L362.67,415.52 L363.27,415.24 L363.88,415.13 L364.49,415.18 L365.10,415.37 L365.71,415.68 L366.32,416.10 L366.92,416.63 L367.53,417.23 L368.14,417.91 L368.75,418.64 L369.36,419.41 L369.97,420.21 L370.57,421.02 L371.18,421.83 L371.79,422.62 L372.40,423.38 L373.01,424.10 L373.62,424.77 L374.23,425.40 L374.83,425.98 L375.44,426.52 L376.05,427.01 L376.66,427.45 L377.27,427.85 L377.88,428.20 L378.48,428.51 L379.09,428.76 L379.70,428.97 L380.31,429.14 L380.92,429.26 L381.52,429.32 L382.13,429.35 L382.74,429.32 L383.35,429.24 L383.96,429.12 L384.57,428.95 L385.17,428.73 L385.78,428.46 L386.39,428.14 L387.00,427.77 L387.61,427.36 L388.22,426.89 L388.82,426.39 L389.43,425.84 L390.04,425.26 L390.65,424.64 L391.26,424.00 L391.87,423.33 L392.48,422.63 L393.08,421.91 L393.69,421.18 L394.30,420.43 L394.91,419.67 L395.52,418.91 L396.12,418.14 L396.73,417.36 L397.34,416.60 L397.95,415.83 L398.56,415.08 L399.17,414.33 L399.77,413.60 L400.38,412.89 L400.99,412.20 L401.60,411.54 L402.21,410.90 L402.82,410.30 L403.42,409.73 L404.03,409.19 L404.64,408.69 L405.25,408.23 L405.86,407.81 L406.47,407.44 L407.07,407.11 L407.68,406.84 L408.29,406.62 L408.90,406.45 L409.51,406.34 L410.12,406.29 L410.73,406.30 L411.33,406.38 L411.94,406.52 L412.55,406.73 L413.16,407.02 L413.77,407.38 L414.38,407.81 L414.98,408.33 L415.59,408.93 L416.20,409.61 L416.81,410.37 L417.42,411.22 L418.02,412.13 L418.63,413.10 L419.24,414.11 L419.85,415.17 L420.46,416.26 L421.07,417.37 L421.67,418.50 L422.28,419.62 L422.89,420.74 L423.50,421.84 L424.11,422.92 L424.72,423.96 L425.32,424.96 L425.93,425.90 L426.54,426.78 L427.15,427.59 L427.76,428.32 L428.37,428.96 L428.98,429.49 L429.58,429.92 L430.19,430.23 L430.80,430.41 L431.41,430.46 L432.02,430.37 L432.62,430.18 L433.23,429.87 L433.84,429.46 L434.45,428.97 L435.06,428.39 L435.67,427.75 L436.27,427.05 L436.88,426.30 L437.49,425.50 L438.10,424.68 L438.71,423.84 L439.32,422.98 L439.92,422.13 L440.53,421.28 L441.14,420.45 L441.75,419.65 L442.36,418.89 L442.97,418.18 L443.57,417.52 L444.18,416.93 L444.79,416.42 L445.40,415.99 L446.01,415.66 L446.62,415.42 L447.23,415.27 L447.83,415.20 L448.44,415.21 L449.05,415.30 L449.66,415.45 L450.27,415.67 L450.88,415.95 L451.48,416.29 L452.09,416.68 L452.70,417.12 L453.31,417.60 L453.92,418.13 L454.52,418.68 L455.13,419.27 L455.74,419.89 L456.35,420.52 L456.96,421.17 L457.57,421.84 L458.17,422.52 L458.78,423.20 L459.39,423.88 L460.00,424.55 L460.61,425.22 L461.22,425.87 L461.82,426.51 L462.43,427.14 L463.04,427.75 L463.65,428.33 L464.26,428.90 L464.87,429.44 L465.48,429.95 L466.08,430.43 L466.69,430.88 L467.30,431.30 L467.91,431.68 L468.52,432.02 L469.12,432.31 L469.73,432.57 L470.34,432.78 L470.95,432.94 L471.56,433.05 L472.17,433.10 L472.77,433.11 L473.38,433.05 L473.99,432.93 L474.60,432.75 L475.21,432.51 L475.82,432.21 L476.42,431.86 L477.03,431.46 L477.64,431.02 L478.25,430.55 L478.86,430.04 L479.47,429.52 L480.07,428.98 L480.68,428.43 L481.29,427.87 L481.90,427.32 L482.51,426.77 L483.12,426.24 L483.73,425.73 L484.33,425.24 L484.94,424.79 L485.55,424.38 L486.16,424.00 L486.77,423.68 L487.38,423.42 L487.98,423.22 L488.59,423.09 L489.20,423.03 L489.81,423.05 L490.42,423.14 L491.02,423.30 L491.63,423.53 L492.24,423.81 L492.85,424.15 L493.46,424.53 L494.07,424.94 L494.67,425.40 L495.28,425.87 L495.89,426.38 L496.50,426.89 L497.11,427.42 L497.72,427.95 L498.32,428.48 L498.93,429.00 L499.54,429.50 L500.15,429.99 L500.76,430.45 L501.37,430.88 L501.98,431.27 L502.58,431.62 L503.19,431.92 L503.80,432.17 L504.41,432.35 L505.02,432.48 L505.62,432.56 L506.23,432.60 L506.84,432.60 L507.45,432.56 L508.06,432.49 L508.67,432.40 L509.27,432.29 L509.88,432.17 L510.49,432.05 L511.10,431.92 L511.71,431.79 L512.32,431.67 L512.92,431.57 L513.53,431.49 L514.14,431.43 L514.75,431.40 L515.36,431.41 L515.97,431.46 L516.57,431.55 L517.18,431.70 L517.79,431.90 L518.40,432.17 L519.01,432.50 L519.62,432.89 L520.23,433.33 L520.83,433.80 L521.44,434.31 L522.05,434.83 L522.66,435.36 L523.27,435.89 L523.88,436.41 L524.48,436.90 L525.09,437.37 L525.70,437.79 L526.31,438.16 L526.92,438.47 L527.52,438.70 L528.13,438.86 L528.74,438.92 L529.35,438.89 L529.96,438.74 L530.57,438.47 L531.17,438.07 L531.78,437.53 L532.39,436.83 L533.00,435.98 L533.63,434.91 L534.27,433.66 L534.90,432.24 L535.54,430.66 L536.17,428.92 L536.81,427.04 L537.44,425.02 L538.08,422.87 L538.71,420.60 L539.35,418.22 L539.98,415.73 L540.62,413.14 L541.25,410.47 L541.89,407.71 L542.52,404.88 L543.16,401.99 L543.79,399.04 L544.43,396.04 L545.06,393.00 L545.70,389.93 L546.33,386.83 L546.97,383.72 L547.60,380.60" fill="none" stroke="#B177DE" stroke-width="1.7" stroke-linejoin="round"/>
<path d="M109.60,382.19L112.00,385.00L109.60,387.80L107.20,385.00Z" fill="#B177DE"/>
<path d="M124.20,382.78L126.60,385.58L124.20,388.38L121.80,385.58Z" fill="#B177DE"/>
<path d="M138.80,386.59L141.20,389.39L138.80,392.19L136.40,389.39Z" fill="#B177DE"/>
<path d="M153.40,378.68L155.80,381.48L153.40,384.28L151.00,381.48Z" fill="#B177DE"/>
<path d="M168.00,396.84L170.40,399.64L168.00,402.44L165.60,399.64Z" fill="#B177DE"/>
<path d="M182.60,404.46L185.00,407.26L182.60,410.06L180.20,407.26Z" fill="#B177DE"/>
<path d="M197.20,410.62L199.60,413.42L197.20,416.22L194.80,413.42Z" fill="#B177DE"/>
<path d="M211.80,415.89L214.20,418.69L211.80,421.49L209.40,418.69Z" fill="#B177DE"/>
<path d="M226.40,418.53L228.80,421.33L226.40,424.13L224.00,421.33Z" fill="#B177DE"/>
<path d="M241.00,418.82L243.40,421.62L241.00,424.42L238.60,421.62Z" fill="#B177DE"/>
<path d="M255.60,419.99L258.00,422.79L255.60,425.59L253.20,422.79Z" fill="#B177DE"/>
<path d="M270.20,417.35L272.60,420.15L270.20,422.95L267.80,420.15Z" fill="#B177DE"/>
<path d="M284.80,421.75L287.20,424.55L284.80,427.35L282.40,424.55Z" fill="#B177DE"/>
<path d="M299.40,420.28L301.80,423.08L299.40,425.88L297.00,423.08Z" fill="#B177DE"/>
<path d="M314.00,260.60L316.40,263.40L314.00,266.20L311.60,263.40Z" fill="#B177DE"/>
<path d="M328.60,85.09L331.00,87.89L328.60,90.69L326.20,87.89Z" fill="#B177DE"/>
<path d="M343.20,408.86L345.60,411.66L343.20,414.46L340.80,411.66Z" fill="#B177DE"/>
<path d="M357.80,422.75L360.20,425.55L357.80,428.35L355.40,425.55Z" fill="#B177DE"/>
<path d="M372.40,420.58L374.80,423.38L372.40,426.18L370.00,423.38Z" fill="#B177DE"/>
<path d="M387.00,424.97L389.40,427.77L387.00,430.57L384.60,427.77Z" fill="#B177DE"/>
<path d="M401.60,408.74L404.00,411.54L401.60,414.34L399.20,411.54Z" fill="#B177DE"/>
<path d="M416.20,406.81L418.60,409.61L416.20,412.41L413.80,409.61Z" fill="#B177DE"/>
<path d="M430.80,427.61L433.20,430.41L430.80,433.21L428.40,430.41Z" fill="#B177DE"/>
<path d="M445.40,413.19L447.80,415.99L445.40,418.79L443.00,415.99Z" fill="#B177DE"/>
<path d="M460.00,421.75L462.40,424.55L460.00,427.35L457.60,424.55Z" fill="#B177DE"/>
<path d="M474.60,429.95L477.00,432.75L474.60,435.55L472.20,432.75Z" fill="#B177DE"/>
<path d="M489.20,420.23L491.60,423.03L489.20,425.83L486.80,423.03Z" fill="#B177DE"/>
<path d="M503.80,429.37L506.20,432.17L503.80,434.97L501.40,432.17Z" fill="#B177DE"/>
<path d="M518.40,429.37L520.80,432.17L518.40,434.97L516.00,432.17Z" fill="#B177DE"/>
<path d="M533.00,433.18L535.40,435.98L533.00,438.78L530.60,435.98Z" fill="#B177DE"/>
<path d="M547.60,377.80L550.00,380.60L547.60,383.40L545.20,380.60Z" fill="#B177DE"/>
<path d="M73.5,57.6 V468.8 H584.2" fill="none" stroke="#000" stroke-width="1.8"/>
<line x1="73.5" y1="439.20" x2="80.5" y2="439.20" stroke="#000" stroke-width="1.6"/>
<line x1="73.5" y1="409.90" x2="76.8" y2="409.90" stroke="#000" stroke-width="1.6"/>
<line x1="73.5" y1="380.60" x2="80.5" y2="380.60" stroke="#000" stroke-width="1.6"/>
<line x1="73.5" y1="351.30" x2="76.8" y2="351.30" stroke="#000" stroke-width="1.6"/>
<line x1="73.5" y1="322.00" x2="80.5" y2="322.00" stroke="#000" stroke-width="1.6"/>
<line x1="73.5" y1="292.70" x2="76.8" y2="292.70" stroke="#000" stroke-width="1.6"/>
<line x1="73.5" y1="263.40" x2="80.5" y2="263.40" stroke="#000" stroke-width="1.6"/>
<line x1="73.5" y1="234.10" x2="76.8" y2="234.10" stroke="#000" stroke-width="1.6"/>
<line x1="73.5" y1="204.80" x2="80.5" y2="204.80" stroke="#000" stroke-width="1.6"/>
<line x1="73.5" y1="175.50" x2="76.8" y2="175.50" stroke="#000" stroke-width="1.6"/>
<line x1="73.5" y1="146.20" x2="80.5" y2="146.20" stroke="#000" stroke-width="1.6"/>
<line x1="73.5" y1="116.90" x2="76.8" y2="116.90" stroke="#000" stroke-width="1.6"/>
<line x1="73.5" y1="87.60" x2="80.5" y2="87.60" stroke="#000" stroke-width="1.6"/>
<line x1="73.5" y1="58.30" x2="76.8" y2="58.30" stroke="#000" stroke-width="1.6"/>
<line x1="73.5" y1="58.3" x2="76.8" y2="58.3" stroke="#000" stroke-width="1.6"/>
<line x1="73.10" y1="468.8" x2="73.10" y2="464.8" stroke="#000" stroke-width="1.6"/>
<line x1="109.60" y1="468.8" x2="109.60" y2="461" stroke="#000" stroke-width="1.6"/>
<line x1="146.10" y1="468.8" x2="146.10" y2="464.8" stroke="#000" stroke-width="1.6"/>
<line x1="182.60" y1="468.8" x2="182.60" y2="461" stroke="#000" stroke-width="1.6"/>
<line x1="219.10" y1="468.8" x2="219.10" y2="464.8" stroke="#000" stroke-width="1.6"/>
<line x1="255.60" y1="468.8" x2="255.60" y2="461" stroke="#000" stroke-width="1.6"/>
<line x1="292.10" y1="468.8" x2="292.10" y2="464.8" stroke="#000" stroke-width="1.6"/>
<line x1="328.60" y1="468.8" x2="328.60" y2="461" stroke="#000" stroke-width="1.6"/>
<line x1="365.10" y1="468.8" x2="365.10" y2="464.8" stroke="#000" stroke-width="1.6"/>
<line x1="401.60" y1="468.8" x2="401.60" y2="461" stroke="#000" stroke-width="1.6"/>
<line x1="438.10" y1="468.8" x2="438.10" y2="464.8" stroke="#000" stroke-width="1.6"/>
<line x1="474.60" y1="468.8" x2="474.60" y2="461" stroke="#000" stroke-width="1.6"/>
<line x1="511.10" y1="468.8" x2="511.10" y2="464.8" stroke="#000" stroke-width="1.6"/>
<line x1="547.60" y1="468.8" x2="547.60" y2="461" stroke="#000" stroke-width="1.6"/>
<line x1="584.10" y1="468.8" x2="584.10" y2="464.8" stroke="#000" stroke-width="1.6"/>
<text x="63.6" y="446.00" font-family="Liberation Serif" font-weight="bold" font-size="21.2" text-anchor="end">0.00</text>
<text x="63.6" y="387.40" font-family="Liberation Serif" font-weight="bold" font-size="21.2" text-anchor="end">0.01</text>
<text x="63.6" y="328.80" font-family="Liberation Serif" font-weight="bold" font-size="21.2" text-anchor="end">0.02</text>
<text x="63.6" y="270.20" font-family="Liberation Serif" font-weight="bold" font-size="21.2" text-anchor="end">0.03</text>
<text x="63.6" y="211.60" font-family="Liberation Serif" font-weight="bold" font-size="21.2" text-anchor="end">0.04</text>
<text x="63.6" y="153.00" font-family="Liberation Serif" font-weight="bold" font-size="21.2" text-anchor="end">0.05</text>
<text x="63.6" y="94.40" font-family="Liberation Serif" font-weight="bold" font-size="21.2" text-anchor="end">0.06</text>
<text x="109.60" y="494.8" font-family="Liberation Serif" font-weight="bold" font-size="21.2" text-anchor="middle">500</text>
<text x="182.60" y="494.8" font-family="Liberation Serif" font-weight="bold" font-size="21.2" text-anchor="middle">1000</text>
<text x="255.60" y="494.8" font-family="Liberation Serif" font-weight="bold" font-size="21.2" text-anchor="middle">1500</text>
<text x="328.60" y="494.8" font-family="Liberation Serif" font-weight="bold" font-size="21.2" text-anchor="middle">2000</text>
<text x="401.60" y="494.8" font-family="Liberation Serif" font-weight="bold" font-size="21.2" text-anchor="middle">2500</text>
<text x="474.60" y="494.8" font-family="Liberation Serif" font-weight="bold" font-size="21.2" text-anchor="middle">3000</text>
<text x="547.60" y="494.8" font-family="Liberation Serif" font-weight="bold" font-size="21.2" text-anchor="middle">3500</text>
<text x="322" y="515.8" font-family="Liberation Serif" font-weight="bold" font-size="21.5" text-anchor="middle">Frequency/Hz</text>
<text transform="translate(18.5,254.5) rotate(-90)" x="0" y="0" font-family="Liberation Serif" font-weight="bold" font-size="21.2" text-anchor="middle">Deformation/mm</text>
<rect x="335.7" y="1.9" width="346.1" height="129.2" fill="#fff" stroke="#000" stroke-width="1.8"/>
<line x1="337.9" y1="16.2" x2="386.4" y2="16.2" stroke="#474747" stroke-width="1.7"/>
<rect x="359.80" y="14.20" width="4.00" height="4.00" fill="#474747"/>
<text x="391.5" y="23.00" font-family="Liberation Serif" font-weight="bold" font-size="20.9">Incident wave pressure 0.01MPa</text>
<line x1="337.9" y1="42.0" x2="386.4" y2="42.0" stroke="#F14040" stroke-width="1.7"/>
<circle cx="361.80" cy="42.00" r="2.10" fill="#F14040"/>
<text x="391.5" y="48.80" font-family="Liberation Serif" font-weight="bold" font-size="20.9">Incident wave pressure 0.02MPa</text>
<line x1="337.9" y1="67.9" x2="386.4" y2="67.9" stroke="#1A6FDF" stroke-width="1.7"/>
<path d="M361.80,65.30L364.20,69.50L359.40,69.50Z" fill="#1A6FDF"/>
<text x="391.5" y="74.90" font-family="Liberation Serif" font-weight="bold" font-size="20.9">Incident wave pressure 0.03MPa</text>
<line x1="337.9" y1="93.7" x2="386.4" y2="93.7" stroke="#37AD6B" stroke-width="1.7"/>
<path d="M361.80,96.30L364.20,92.10L359.40,92.10Z" fill="#37AD6B"/>
<text x="391.5" y="100.70" font-family="Liberation Serif" font-weight="bold" font-size="20.9">Incident wave pressure 0.04MPa</text>
<line x1="337.9" y1="119.4" x2="386.4" y2="119.4" stroke="#B177DE" stroke-width="1.7"/>
<path d="M361.80,116.60L364.20,119.40L361.80,122.20L359.40,119.40Z" fill="#B177DE"/>
<text x="391.5" y="126.60" font-family="Liberation Serif" font-weight="bold" font-size="20.9">Incident wave pressure 0.05MPa</text>
</svg>
</body></html>
